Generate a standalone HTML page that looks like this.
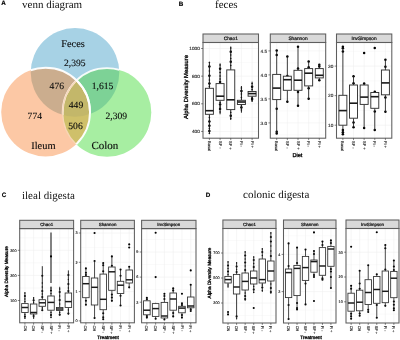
<!DOCTYPE html>
<html lang="en">
<head>
<meta charset="utf-8">
<title>Figure: venn diagram and alpha diversity</title>
<style>
html, body { margin: 0; padding: 0; background: #ffffff; }
body { width: 400px; height: 340px; overflow: hidden; font-family: "Liberation Sans", sans-serif; }
svg { display: block; text-rendering: geometricPrecision; }
</style>
</head>
<body>
<svg width="400" height="340" viewBox="0 0 400 340">
<rect width="400" height="340" fill="#ffffff"/>
<defs><filter id="gray" x="0" y="0" width="100%" height="100%" filterUnits="userSpaceOnUse" color-interpolation-filters="sRGB"><feColorMatrix type="saturate" values="0"/><feGaussianBlur stdDeviation="0.32"/></filter></defs>
<g id="venn">
<defs>
<filter id="soft" x="0" y="0" width="100%" height="100%" filterUnits="userSpaceOnUse" color-interpolation-filters="sRGB"><feGaussianBlur stdDeviation="0.3"/></filter>
<clipPath id="clipF"><circle cx="75.0" cy="72.4" r="44.3"/></clipPath>
<clipPath id="clipI"><circle cx="45.6" cy="112.1" r="44.4"/></clipPath>
<clipPath id="clipC"><circle cx="107.0" cy="112.5" r="44.3"/></clipPath>
</defs>
<g filter="url(#soft)">
<circle cx="75.0" cy="72.4" r="44.3" fill="#a7d2e5" />
<circle cx="45.6" cy="112.1" r="44.4" fill="#fcc8a5" />
<circle cx="107.0" cy="112.5" r="44.3" fill="#a7eea2" />
<circle cx="45.6" cy="112.1" r="44.4" fill="#cbad8e" clip-path="url(#clipF)"/>
<circle cx="107.0" cy="112.5" r="44.3" fill="#7dd296" clip-path="url(#clipF)"/>
<circle cx="107.0" cy="112.5" r="44.3" fill="#cfc06a" clip-path="url(#clipI)"/>
<g clip-path="url(#clipF)"><circle cx="107.0" cy="112.5" r="44.3" fill="#c3b76a" clip-path="url(#clipI)"/></g>
<circle cx="107.0" cy="112.5" r="44.3" fill="none" stroke="#ffffff" stroke-opacity="0.9" stroke-width="1.8" clip-path="url(#clipF)"/>
<circle cx="107.0" cy="112.5" r="44.3" fill="none" stroke="#f8d6b6" stroke-opacity="0.95" stroke-width="1.3" clip-path="url(#clipI)"/>
<circle cx="45.6" cy="112.1" r="44.4" fill="none" stroke="#ffffff" stroke-opacity="0.95" stroke-width="1.9" clip-path="url(#clipF)"/>
<circle cx="45.6" cy="112.1" r="44.4" fill="none" stroke="#ffffff" stroke-opacity="0.95" stroke-width="1.9" clip-path="url(#clipC)"/>
</g>
<g filter="url(#gray)">
<text x="73.0" y="47.3" font-family='"Liberation Serif", serif' font-size="10.3" text-anchor="middle" fill="#0a0a0a" stroke="#0a0a0a" stroke-width="0.12">Feces</text>
<text x="74.8" y="65.5" font-family='"Liberation Serif", serif' font-size="9.6" text-anchor="middle" fill="#0a0a0a" stroke="#0a0a0a" stroke-width="0.12">2,395</text>
<text x="56.8" y="88.5" font-family='"Liberation Serif", serif' font-size="9.6" text-anchor="middle" fill="#0a0a0a" stroke="#0a0a0a" stroke-width="0.12">476</text>
<text x="102.5" y="88.5" font-family='"Liberation Serif", serif' font-size="9.6" text-anchor="middle" fill="#0a0a0a" stroke="#0a0a0a" stroke-width="0.12">1,615</text>
<text x="76" y="108.2" font-family='"Liberation Serif", serif' font-size="9.6" text-anchor="middle" fill="#0a0a0a" stroke="#0a0a0a" stroke-width="0.12">449</text>
<text x="34.8" y="119.2" font-family='"Liberation Serif", serif' font-size="9.6" text-anchor="middle" fill="#0a0a0a" stroke="#0a0a0a" stroke-width="0.12">774</text>
<text x="75.5" y="129.3" font-family='"Liberation Serif", serif' font-size="9.6" text-anchor="middle" fill="#0a0a0a" stroke="#0a0a0a" stroke-width="0.12">506</text>
<text x="116.3" y="119.2" font-family='"Liberation Serif", serif' font-size="9.6" text-anchor="middle" fill="#0a0a0a" stroke="#0a0a0a" stroke-width="0.12">2,309</text>
<text x="43.4" y="149.0" font-family='"Liberation Serif", serif' font-size="10.4" text-anchor="middle" fill="#0a0a0a" stroke="#0a0a0a" stroke-width="0.12">Ileum</text>
<text x="104.9" y="149.0" font-family='"Liberation Serif", serif' font-size="11" text-anchor="middle" fill="#0a0a0a" stroke="#0a0a0a" stroke-width="0.12">Colon</text>
</g>
</g>
<g filter="url(#gray)">
<text x="1.3" y="5.4" font-family='"Liberation Sans", sans-serif' font-size="6.3" font-weight="bold" fill="#000" stroke="#000" stroke-width="0.15">A</text>
<text x="178.8" y="5.6" font-family='"Liberation Sans", sans-serif' font-size="6.3" font-weight="bold" fill="#000" stroke="#000" stroke-width="0.15">B</text>
<text x="1.8" y="197.2" font-family='"Liberation Sans", sans-serif' font-size="6.3" font-weight="bold" fill="#000" stroke="#000" stroke-width="0.15">C</text>
<text x="205.8" y="196.6" font-family='"Liberation Sans", sans-serif' font-size="6.3" font-weight="bold" fill="#000" stroke="#000" stroke-width="0.15">D</text>
<text x="22" y="8.3" font-family='"Liberation Serif", serif' font-size="11" fill="#111">venn diagram</text>
<text x="215" y="8.3" font-family='"Liberation Serif", serif' font-size="11" fill="#111">feces</text>
<text x="22" y="199.3" font-family='"Liberation Serif", serif' font-size="11" fill="#111">ileal digesta</text>
<text x="243" y="198.2" font-family='"Liberation Serif", serif' font-size="11" fill="#111">colonic digesta</text>
<g>
<rect x="203.0" y="42.5" width="55.50" height="95.70" fill="#fff"/>
<line x1="203.0" x2="258.5" y1="62.33" y2="62.33" stroke="#eeeeee" stroke-width="0.3"/>
<line x1="203.0" x2="258.5" y1="89.98" y2="89.98" stroke="#eeeeee" stroke-width="0.3"/>
<line x1="203.0" x2="258.5" y1="117.63" y2="117.63" stroke="#eeeeee" stroke-width="0.3"/>
<line x1="203.0" x2="258.5" y1="48.50" y2="48.50" stroke="#eeeeee" stroke-width="0.55"/>
<line x1="203.0" x2="258.5" y1="76.15" y2="76.15" stroke="#eeeeee" stroke-width="0.55"/>
<line x1="203.0" x2="258.5" y1="103.80" y2="103.80" stroke="#eeeeee" stroke-width="0.55"/>
<line x1="203.0" x2="258.5" y1="131.45" y2="131.45" stroke="#eeeeee" stroke-width="0.55"/>
<line x1="209.40" x2="209.40" y1="42.5" y2="138.2" stroke="#eeeeee" stroke-width="0.55"/>
<line x1="220.08" x2="220.08" y1="42.5" y2="138.2" stroke="#eeeeee" stroke-width="0.55"/>
<line x1="230.75" x2="230.75" y1="42.5" y2="138.2" stroke="#eeeeee" stroke-width="0.55"/>
<line x1="241.42" x2="241.42" y1="42.5" y2="138.2" stroke="#eeeeee" stroke-width="0.55"/>
<line x1="252.10" x2="252.10" y1="42.5" y2="138.2" stroke="#eeeeee" stroke-width="0.55"/>
<circle cx="209.40" cy="62.50" r="0.78" fill="#000"/>
<circle cx="209.40" cy="66.50" r="1.25" fill="#000"/>
<circle cx="209.40" cy="71.00" r="0.78" fill="#000"/>
<circle cx="209.40" cy="75.80" r="1.25" fill="#000"/>
<circle cx="209.40" cy="80.00" r="0.78" fill="#000"/>
<circle cx="209.40" cy="83.60" r="1.25" fill="#000"/>
<circle cx="209.40" cy="86.50" r="0.78" fill="#000"/>
<circle cx="209.40" cy="117.50" r="0.78" fill="#000"/>
<circle cx="209.40" cy="121.60" r="1.25" fill="#000"/>
<circle cx="209.40" cy="125.80" r="1.25" fill="#000"/>
<circle cx="209.40" cy="128.50" r="0.78" fill="#000"/>
<circle cx="209.40" cy="131.00" r="1.25" fill="#000"/>
<circle cx="209.40" cy="133.50" r="0.78" fill="#000"/>
<line x1="209.40" x2="209.40" y1="61.80" y2="88.30" stroke="#1a1a1a" stroke-width="1.0"/>
<line x1="209.40" x2="209.40" y1="114.30" y2="134.00" stroke="#1a1a1a" stroke-width="1.0"/>
<rect x="205.40" y="88.30" width="8.00" height="26.00" fill="#fff" stroke="#303030" stroke-width="0.94"/>
<line x1="205.40" x2="213.41" y1="110.70" y2="110.70" stroke="#1a1a1a" stroke-width="1.61"/>
<circle cx="220.08" cy="65.00" r="0.78" fill="#000"/>
<circle cx="220.08" cy="68.80" r="1.25" fill="#000"/>
<circle cx="220.08" cy="72.50" r="0.78" fill="#000"/>
<circle cx="220.08" cy="76.00" r="0.78" fill="#000"/>
<circle cx="220.08" cy="79.00" r="0.78" fill="#000"/>
<circle cx="220.08" cy="82.00" r="1.25" fill="#000"/>
<circle cx="220.08" cy="102.50" r="0.78" fill="#000"/>
<circle cx="220.08" cy="104.50" r="1.25" fill="#000"/>
<circle cx="220.08" cy="107.00" r="0.78" fill="#000"/>
<circle cx="220.08" cy="109.00" r="1.25" fill="#000"/>
<circle cx="220.08" cy="112.00" r="0.78" fill="#000"/>
<line x1="220.08" x2="220.08" y1="63.40" y2="83.60" stroke="#1a1a1a" stroke-width="1.0"/>
<line x1="220.08" x2="220.08" y1="100.30" y2="114.30" stroke="#1a1a1a" stroke-width="1.0"/>
<rect x="216.07" y="83.60" width="8.00" height="16.70" fill="#fff" stroke="#303030" stroke-width="0.94"/>
<line x1="216.07" x2="224.08" y1="96.20" y2="96.20" stroke="#1a1a1a" stroke-width="1.61"/>
<circle cx="230.75" cy="48.00" r="0.78" fill="#000"/>
<circle cx="230.75" cy="51.70" r="1.25" fill="#000"/>
<circle cx="230.75" cy="55.00" r="0.78" fill="#000"/>
<circle cx="230.75" cy="58.50" r="0.78" fill="#000"/>
<circle cx="230.75" cy="61.80" r="1.25" fill="#000"/>
<circle cx="230.75" cy="65.50" r="0.78" fill="#000"/>
<circle cx="230.75" cy="112.50" r="0.78" fill="#000"/>
<circle cx="230.75" cy="115.80" r="1.25" fill="#000"/>
<circle cx="230.75" cy="118.50" r="0.78" fill="#000"/>
<line x1="230.75" x2="230.75" y1="46.50" y2="69.90" stroke="#1a1a1a" stroke-width="1.0"/>
<line x1="230.75" x2="230.75" y1="109.60" y2="120.00" stroke="#1a1a1a" stroke-width="1.0"/>
<rect x="226.75" y="69.90" width="8.00" height="39.70" fill="#fff" stroke="#303030" stroke-width="0.94"/>
<line x1="226.75" x2="234.75" y1="99.80" y2="99.80" stroke="#1a1a1a" stroke-width="1.61"/>
<circle cx="241.42" cy="88.00" r="0.78" fill="#000"/>
<circle cx="241.42" cy="91.00" r="1.25" fill="#000"/>
<circle cx="241.42" cy="94.00" r="0.78" fill="#000"/>
<circle cx="241.42" cy="97.50" r="0.78" fill="#000"/>
<circle cx="241.42" cy="106.00" r="0.78" fill="#000"/>
<circle cx="241.42" cy="107.60" r="1.25" fill="#000"/>
<circle cx="241.42" cy="110.00" r="0.78" fill="#000"/>
<line x1="241.42" x2="241.42" y1="86.00" y2="100.30" stroke="#1a1a1a" stroke-width="1.0"/>
<line x1="241.42" x2="241.42" y1="104.50" y2="112.70" stroke="#1a1a1a" stroke-width="1.0"/>
<rect x="237.42" y="100.30" width="8.00" height="4.20" fill="#fff" stroke="#303030" stroke-width="0.94"/>
<line x1="237.42" x2="245.43" y1="102.00" y2="102.00" stroke="#1a1a1a" stroke-width="1.61"/>
<circle cx="252.10" cy="83.50" r="0.78" fill="#000"/>
<circle cx="252.10" cy="86.80" r="1.25" fill="#000"/>
<circle cx="252.10" cy="89.50" r="0.78" fill="#000"/>
<circle cx="252.10" cy="97.50" r="0.78" fill="#000"/>
<circle cx="252.10" cy="99.00" r="1.25" fill="#000"/>
<circle cx="252.10" cy="100.80" r="0.78" fill="#000"/>
<line x1="252.10" x2="252.10" y1="81.70" y2="91.50" stroke="#1a1a1a" stroke-width="1.0"/>
<line x1="252.10" x2="252.10" y1="96.20" y2="102.00" stroke="#1a1a1a" stroke-width="1.0"/>
<rect x="248.09" y="91.50" width="8.00" height="4.70" fill="#fff" stroke="#303030" stroke-width="0.94"/>
<line x1="248.09" x2="256.10" y1="93.60" y2="93.60" stroke="#1a1a1a" stroke-width="1.61"/>
<rect x="203.0" y="34.0" width="55.50" height="8.50" fill="#d9d9d9" stroke="#5e5e5e" stroke-width="1.05"/>
<text x="230.75" y="39.98" font-family='"Liberation Sans", sans-serif' font-size="4.8" text-anchor="middle" fill="#111" stroke="#111" stroke-width="0.22">Chao1</text>
<rect x="203.0" y="42.5" width="55.50" height="95.70" fill="none" stroke="#5e5e5e" stroke-width="1.05"/>
<line x1="201.10" x2="203.0" y1="48.50" y2="48.50" stroke="#333333" stroke-width="0.6"/>
<text x="199.80" y="50.19" font-family='"Liberation Sans", sans-serif' font-size="4.7" text-anchor="end" fill="#2e2e2e" stroke="#2e2e2e" stroke-width="0.15">1000</text>
<line x1="201.10" x2="203.0" y1="76.15" y2="76.15" stroke="#333333" stroke-width="0.6"/>
<text x="199.80" y="77.84" font-family='"Liberation Sans", sans-serif' font-size="4.7" text-anchor="end" fill="#2e2e2e" stroke="#2e2e2e" stroke-width="0.15">800</text>
<line x1="201.10" x2="203.0" y1="103.80" y2="103.80" stroke="#333333" stroke-width="0.6"/>
<text x="199.80" y="105.49" font-family='"Liberation Sans", sans-serif' font-size="4.7" text-anchor="end" fill="#2e2e2e" stroke="#2e2e2e" stroke-width="0.15">600</text>
<line x1="201.10" x2="203.0" y1="131.45" y2="131.45" stroke="#333333" stroke-width="0.6"/>
<text x="199.80" y="133.14" font-family='"Liberation Sans", sans-serif' font-size="4.7" text-anchor="end" fill="#2e2e2e" stroke="#2e2e2e" stroke-width="0.15">400</text>
<line x1="209.40" x2="209.40" y1="138.2" y2="140.10" stroke="#333333" stroke-width="0.6"/>
<text transform="translate(207.96,141.00) rotate(90)" font-family='"Liberation Sans", sans-serif' font-size="4.0" text-anchor="start" fill="#2e2e2e" stroke="#2e2e2e" stroke-width="0.15">Basal</text>
<line x1="220.08" x2="220.08" y1="138.2" y2="140.10" stroke="#333333" stroke-width="0.6"/>
<text transform="translate(218.64,141.00) rotate(90)" font-family='"Liberation Sans", sans-serif' font-size="4.0" text-anchor="start" fill="#2e2e2e" stroke="#2e2e2e" stroke-width="0.15">SF -</text>
<line x1="230.75" x2="230.75" y1="138.2" y2="140.10" stroke="#333333" stroke-width="0.6"/>
<text transform="translate(229.31,141.00) rotate(90)" font-family='"Liberation Sans", sans-serif' font-size="4.0" text-anchor="start" fill="#2e2e2e" stroke="#2e2e2e" stroke-width="0.15">SF +</text>
<line x1="241.42" x2="241.42" y1="138.2" y2="140.10" stroke="#333333" stroke-width="0.6"/>
<text transform="translate(239.98,141.00) rotate(90)" font-family='"Liberation Sans", sans-serif' font-size="4.0" text-anchor="start" fill="#2e2e2e" stroke="#2e2e2e" stroke-width="0.15">Fi -</text>
<line x1="252.10" x2="252.10" y1="138.2" y2="140.10" stroke="#333333" stroke-width="0.6"/>
<text transform="translate(250.66,141.00) rotate(90)" font-family='"Liberation Sans", sans-serif' font-size="4.0" text-anchor="start" fill="#2e2e2e" stroke="#2e2e2e" stroke-width="0.15">Fi +</text>
</g>
<g>
<rect x="270.3" y="42.5" width="55.40" height="95.70" fill="#fff"/>
<line x1="270.3" x2="325.7" y1="62.90" y2="62.90" stroke="#eeeeee" stroke-width="0.3"/>
<line x1="270.3" x2="325.7" y1="86.90" y2="86.90" stroke="#eeeeee" stroke-width="0.3"/>
<line x1="270.3" x2="325.7" y1="110.90" y2="110.90" stroke="#eeeeee" stroke-width="0.3"/>
<line x1="270.3" x2="325.7" y1="134.90" y2="134.90" stroke="#eeeeee" stroke-width="0.3"/>
<line x1="270.3" x2="325.7" y1="50.90" y2="50.90" stroke="#eeeeee" stroke-width="0.55"/>
<line x1="270.3" x2="325.7" y1="74.90" y2="74.90" stroke="#eeeeee" stroke-width="0.55"/>
<line x1="270.3" x2="325.7" y1="98.90" y2="98.90" stroke="#eeeeee" stroke-width="0.55"/>
<line x1="270.3" x2="325.7" y1="122.90" y2="122.90" stroke="#eeeeee" stroke-width="0.55"/>
<line x1="276.69" x2="276.69" y1="42.5" y2="138.2" stroke="#eeeeee" stroke-width="0.55"/>
<line x1="287.35" x2="287.35" y1="42.5" y2="138.2" stroke="#eeeeee" stroke-width="0.55"/>
<line x1="298.00" x2="298.00" y1="42.5" y2="138.2" stroke="#eeeeee" stroke-width="0.55"/>
<line x1="308.65" x2="308.65" y1="42.5" y2="138.2" stroke="#eeeeee" stroke-width="0.55"/>
<line x1="319.31" x2="319.31" y1="42.5" y2="138.2" stroke="#eeeeee" stroke-width="0.55"/>
<circle cx="276.69" cy="50.60" r="1.25" fill="#000"/>
<circle cx="276.69" cy="55.00" r="1.25" fill="#000"/>
<circle cx="276.69" cy="108.80" r="1.25" fill="#000"/>
<circle cx="276.69" cy="131.70" r="1.25" fill="#000"/>
<circle cx="276.69" cy="133.50" r="1.25" fill="#000"/>
<line x1="276.69" x2="276.69" y1="50.60" y2="74.40" stroke="#1a1a1a" stroke-width="0.85"/>
<line x1="276.69" x2="276.69" y1="99.60" y2="133.50" stroke="#1a1a1a" stroke-width="0.85"/>
<rect x="272.70" y="74.40" width="7.99" height="25.20" fill="#fff" stroke="#303030" stroke-width="0.94"/>
<line x1="272.70" x2="280.69" y1="88.10" y2="88.10" stroke="#1a1a1a" stroke-width="1.61"/>
<circle cx="287.35" cy="56.40" r="1.25" fill="#000"/>
<circle cx="287.35" cy="76.00" r="1.25" fill="#000"/>
<circle cx="287.35" cy="101.80" r="1.25" fill="#000"/>
<line x1="287.35" x2="287.35" y1="56.40" y2="76.20" stroke="#1a1a1a" stroke-width="0.85"/>
<line x1="287.35" x2="287.35" y1="90.30" y2="101.80" stroke="#1a1a1a" stroke-width="0.85"/>
<rect x="283.35" y="76.20" width="7.99" height="14.10" fill="#fff" stroke="#303030" stroke-width="0.94"/>
<line x1="283.35" x2="291.34" y1="79.70" y2="79.70" stroke="#1a1a1a" stroke-width="1.61"/>
<circle cx="298.00" cy="46.70" r="1.25" fill="#000"/>
<circle cx="298.00" cy="68.60" r="1.25" fill="#000"/>
<circle cx="298.00" cy="92.00" r="1.25" fill="#000"/>
<circle cx="298.00" cy="105.80" r="1.25" fill="#000"/>
<line x1="298.00" x2="298.00" y1="46.70" y2="70.30" stroke="#1a1a1a" stroke-width="0.85"/>
<line x1="298.00" x2="298.00" y1="90.30" y2="105.80" stroke="#1a1a1a" stroke-width="0.85"/>
<rect x="294.00" y="70.30" width="7.99" height="20.00" fill="#fff" stroke="#303030" stroke-width="0.94"/>
<line x1="294.00" x2="302.00" y1="80.20" y2="80.20" stroke="#1a1a1a" stroke-width="1.61"/>
<circle cx="308.65" cy="61.50" r="1.25" fill="#000"/>
<circle cx="308.65" cy="67.30" r="1.25" fill="#000"/>
<circle cx="308.65" cy="88.20" r="1.25" fill="#000"/>
<circle cx="308.65" cy="98.80" r="1.25" fill="#000"/>
<line x1="308.65" x2="308.65" y1="61.50" y2="68.60" stroke="#1a1a1a" stroke-width="0.85"/>
<line x1="308.65" x2="308.65" y1="85.90" y2="98.80" stroke="#1a1a1a" stroke-width="0.85"/>
<rect x="304.66" y="68.60" width="7.99" height="17.30" fill="#fff" stroke="#303030" stroke-width="0.94"/>
<line x1="304.66" x2="312.65" y1="73.20" y2="73.20" stroke="#1a1a1a" stroke-width="1.61"/>
<circle cx="319.31" cy="64.70" r="1.25" fill="#000"/>
<circle cx="319.31" cy="66.50" r="1.25" fill="#000"/>
<circle cx="319.31" cy="80.20" r="1.25" fill="#000"/>
<line x1="319.31" x2="319.31" y1="64.70" y2="68.60" stroke="#1a1a1a" stroke-width="0.85"/>
<line x1="319.31" x2="319.31" y1="77.90" y2="80.20" stroke="#1a1a1a" stroke-width="0.85"/>
<rect x="315.31" y="68.60" width="7.99" height="9.30" fill="#fff" stroke="#303030" stroke-width="0.94"/>
<line x1="315.31" x2="323.30" y1="75.30" y2="75.30" stroke="#1a1a1a" stroke-width="1.61"/>
<rect x="270.3" y="34.0" width="55.40" height="8.50" fill="#d9d9d9" stroke="#5e5e5e" stroke-width="1.05"/>
<text x="298.00" y="39.98" font-family='"Liberation Sans", sans-serif' font-size="4.8" text-anchor="middle" fill="#111" stroke="#111" stroke-width="0.22">Shannon</text>
<rect x="270.3" y="42.5" width="55.40" height="95.70" fill="none" stroke="#5e5e5e" stroke-width="1.05"/>
<line x1="268.40" x2="270.3" y1="50.90" y2="50.90" stroke="#333333" stroke-width="0.6"/>
<text x="267.10" y="52.59" font-family='"Liberation Sans", sans-serif' font-size="4.7" text-anchor="end" fill="#2e2e2e" stroke="#2e2e2e" stroke-width="0.15">4.5</text>
<line x1="268.40" x2="270.3" y1="74.90" y2="74.90" stroke="#333333" stroke-width="0.6"/>
<text x="267.10" y="76.59" font-family='"Liberation Sans", sans-serif' font-size="4.7" text-anchor="end" fill="#2e2e2e" stroke="#2e2e2e" stroke-width="0.15">4.0</text>
<line x1="268.40" x2="270.3" y1="98.90" y2="98.90" stroke="#333333" stroke-width="0.6"/>
<text x="267.10" y="100.59" font-family='"Liberation Sans", sans-serif' font-size="4.7" text-anchor="end" fill="#2e2e2e" stroke="#2e2e2e" stroke-width="0.15">3.5</text>
<line x1="268.40" x2="270.3" y1="122.90" y2="122.90" stroke="#333333" stroke-width="0.6"/>
<text x="267.10" y="124.59" font-family='"Liberation Sans", sans-serif' font-size="4.7" text-anchor="end" fill="#2e2e2e" stroke="#2e2e2e" stroke-width="0.15">3.0</text>
<line x1="276.69" x2="276.69" y1="138.2" y2="140.10" stroke="#333333" stroke-width="0.6"/>
<text transform="translate(275.25,141.00) rotate(90)" font-family='"Liberation Sans", sans-serif' font-size="4.0" text-anchor="start" fill="#2e2e2e" stroke="#2e2e2e" stroke-width="0.15">Basal</text>
<line x1="287.35" x2="287.35" y1="138.2" y2="140.10" stroke="#333333" stroke-width="0.6"/>
<text transform="translate(285.91,141.00) rotate(90)" font-family='"Liberation Sans", sans-serif' font-size="4.0" text-anchor="start" fill="#2e2e2e" stroke="#2e2e2e" stroke-width="0.15">SF -</text>
<line x1="298.00" x2="298.00" y1="138.2" y2="140.10" stroke="#333333" stroke-width="0.6"/>
<text transform="translate(296.56,141.00) rotate(90)" font-family='"Liberation Sans", sans-serif' font-size="4.0" text-anchor="start" fill="#2e2e2e" stroke="#2e2e2e" stroke-width="0.15">SF +</text>
<line x1="308.65" x2="308.65" y1="138.2" y2="140.10" stroke="#333333" stroke-width="0.6"/>
<text transform="translate(307.21,141.00) rotate(90)" font-family='"Liberation Sans", sans-serif' font-size="4.0" text-anchor="start" fill="#2e2e2e" stroke="#2e2e2e" stroke-width="0.15">Fi -</text>
<line x1="319.31" x2="319.31" y1="138.2" y2="140.10" stroke="#333333" stroke-width="0.6"/>
<text transform="translate(317.87,141.00) rotate(90)" font-family='"Liberation Sans", sans-serif' font-size="4.0" text-anchor="start" fill="#2e2e2e" stroke="#2e2e2e" stroke-width="0.15">Fi +</text>
</g>
<g>
<rect x="336.5" y="42.5" width="55.30" height="95.70" fill="#fff"/>
<line x1="336.5" x2="391.8" y1="51.32" y2="51.32" stroke="#eeeeee" stroke-width="0.3"/>
<line x1="336.5" x2="391.8" y1="80.88" y2="80.88" stroke="#eeeeee" stroke-width="0.3"/>
<line x1="336.5" x2="391.8" y1="110.43" y2="110.43" stroke="#eeeeee" stroke-width="0.3"/>
<line x1="336.5" x2="391.8" y1="66.10" y2="66.10" stroke="#eeeeee" stroke-width="0.55"/>
<line x1="336.5" x2="391.8" y1="95.65" y2="95.65" stroke="#eeeeee" stroke-width="0.55"/>
<line x1="336.5" x2="391.8" y1="125.20" y2="125.20" stroke="#eeeeee" stroke-width="0.55"/>
<line x1="342.88" x2="342.88" y1="42.5" y2="138.2" stroke="#eeeeee" stroke-width="0.55"/>
<line x1="353.52" x2="353.52" y1="42.5" y2="138.2" stroke="#eeeeee" stroke-width="0.55"/>
<line x1="364.15" x2="364.15" y1="42.5" y2="138.2" stroke="#eeeeee" stroke-width="0.55"/>
<line x1="374.78" x2="374.78" y1="42.5" y2="138.2" stroke="#eeeeee" stroke-width="0.55"/>
<line x1="385.42" x2="385.42" y1="42.5" y2="138.2" stroke="#eeeeee" stroke-width="0.55"/>
<circle cx="342.88" cy="46.70" r="1.25" fill="#000"/>
<circle cx="342.88" cy="48.20" r="1.25" fill="#000"/>
<circle cx="342.88" cy="51.50" r="1.25" fill="#000"/>
<circle cx="342.88" cy="130.00" r="1.25" fill="#000"/>
<circle cx="342.88" cy="132.30" r="1.25" fill="#000"/>
<circle cx="342.88" cy="134.20" r="1.25" fill="#000"/>
<line x1="342.88" x2="342.88" y1="46.70" y2="95.30" stroke="#1a1a1a" stroke-width="0.85"/>
<line x1="342.88" x2="342.88" y1="125.20" y2="134.40" stroke="#1a1a1a" stroke-width="0.85"/>
<rect x="338.89" y="95.30" width="7.98" height="29.90" fill="#fff" stroke="#303030" stroke-width="0.94"/>
<line x1="338.89" x2="346.87" y1="110.60" y2="110.60" stroke="#1a1a1a" stroke-width="1.61"/>
<circle cx="353.52" cy="76.20" r="1.25" fill="#000"/>
<circle cx="353.52" cy="83.20" r="1.25" fill="#000"/>
<circle cx="353.52" cy="122.60" r="1.25" fill="#000"/>
<circle cx="353.52" cy="127.30" r="1.25" fill="#000"/>
<line x1="353.52" x2="353.52" y1="76.20" y2="85.00" stroke="#1a1a1a" stroke-width="0.85"/>
<line x1="353.52" x2="353.52" y1="118.20" y2="127.30" stroke="#1a1a1a" stroke-width="0.85"/>
<rect x="349.53" y="85.00" width="7.98" height="33.20" fill="#fff" stroke="#303030" stroke-width="0.94"/>
<line x1="349.53" x2="357.50" y1="103.20" y2="103.20" stroke="#1a1a1a" stroke-width="1.61"/>
<circle cx="364.15" cy="52.90" r="1.25" fill="#000"/>
<circle cx="364.15" cy="83.60" r="1.25" fill="#000"/>
<circle cx="364.15" cy="127.90" r="1.25" fill="#000"/>
<line x1="364.15" x2="364.15" y1="83.60" y2="85.00" stroke="#1a1a1a" stroke-width="0.85"/>
<line x1="364.15" x2="364.15" y1="104.40" y2="127.90" stroke="#1a1a1a" stroke-width="0.85"/>
<rect x="360.16" y="85.00" width="7.98" height="19.40" fill="#fff" stroke="#303030" stroke-width="0.94"/>
<line x1="360.16" x2="368.14" y1="97.10" y2="97.10" stroke="#1a1a1a" stroke-width="1.61"/>
<circle cx="374.78" cy="48.00" r="1.25" fill="#000"/>
<circle cx="374.78" cy="91.70" r="1.25" fill="#000"/>
<circle cx="374.78" cy="111.50" r="1.25" fill="#000"/>
<circle cx="374.78" cy="130.00" r="1.25" fill="#000"/>
<line x1="374.78" x2="374.78" y1="91.70" y2="92.50" stroke="#1a1a1a" stroke-width="0.85"/>
<line x1="374.78" x2="374.78" y1="108.30" y2="130.00" stroke="#1a1a1a" stroke-width="0.85"/>
<rect x="370.80" y="92.50" width="7.98" height="15.80" fill="#fff" stroke="#303030" stroke-width="0.94"/>
<line x1="370.80" x2="378.77" y1="96.70" y2="96.70" stroke="#1a1a1a" stroke-width="1.61"/>
<circle cx="385.42" cy="59.80" r="1.25" fill="#000"/>
<circle cx="385.42" cy="66.80" r="1.25" fill="#000"/>
<circle cx="385.42" cy="97.60" r="1.25" fill="#000"/>
<circle cx="385.42" cy="111.80" r="1.25" fill="#000"/>
<line x1="385.42" x2="385.42" y1="59.80" y2="70.00" stroke="#1a1a1a" stroke-width="0.85"/>
<line x1="385.42" x2="385.42" y1="94.80" y2="111.80" stroke="#1a1a1a" stroke-width="0.85"/>
<rect x="381.43" y="70.00" width="7.98" height="24.80" fill="#fff" stroke="#303030" stroke-width="0.94"/>
<line x1="381.43" x2="389.41" y1="82.90" y2="82.90" stroke="#1a1a1a" stroke-width="1.61"/>
<rect x="336.5" y="34.0" width="55.30" height="8.50" fill="#d9d9d9" stroke="#5e5e5e" stroke-width="1.05"/>
<text x="364.15" y="39.98" font-family='"Liberation Sans", sans-serif' font-size="4.8" text-anchor="middle" fill="#111" stroke="#111" stroke-width="0.22">InvSimpson</text>
<rect x="336.5" y="42.5" width="55.30" height="95.70" fill="none" stroke="#5e5e5e" stroke-width="1.05"/>
<line x1="334.60" x2="336.5" y1="66.10" y2="66.10" stroke="#333333" stroke-width="0.6"/>
<text x="333.30" y="67.79" font-family='"Liberation Sans", sans-serif' font-size="4.7" text-anchor="end" fill="#2e2e2e" stroke="#2e2e2e" stroke-width="0.15">30</text>
<line x1="334.60" x2="336.5" y1="95.65" y2="95.65" stroke="#333333" stroke-width="0.6"/>
<text x="333.30" y="97.34" font-family='"Liberation Sans", sans-serif' font-size="4.7" text-anchor="end" fill="#2e2e2e" stroke="#2e2e2e" stroke-width="0.15">20</text>
<line x1="334.60" x2="336.5" y1="125.20" y2="125.20" stroke="#333333" stroke-width="0.6"/>
<text x="333.30" y="126.89" font-family='"Liberation Sans", sans-serif' font-size="4.7" text-anchor="end" fill="#2e2e2e" stroke="#2e2e2e" stroke-width="0.15">10</text>
<line x1="342.88" x2="342.88" y1="138.2" y2="140.10" stroke="#333333" stroke-width="0.6"/>
<text transform="translate(341.44,141.00) rotate(90)" font-family='"Liberation Sans", sans-serif' font-size="4.0" text-anchor="start" fill="#2e2e2e" stroke="#2e2e2e" stroke-width="0.15">Basal</text>
<line x1="353.52" x2="353.52" y1="138.2" y2="140.10" stroke="#333333" stroke-width="0.6"/>
<text transform="translate(352.08,141.00) rotate(90)" font-family='"Liberation Sans", sans-serif' font-size="4.0" text-anchor="start" fill="#2e2e2e" stroke="#2e2e2e" stroke-width="0.15">SF -</text>
<line x1="364.15" x2="364.15" y1="138.2" y2="140.10" stroke="#333333" stroke-width="0.6"/>
<text transform="translate(362.71,141.00) rotate(90)" font-family='"Liberation Sans", sans-serif' font-size="4.0" text-anchor="start" fill="#2e2e2e" stroke="#2e2e2e" stroke-width="0.15">SF +</text>
<line x1="374.78" x2="374.78" y1="138.2" y2="140.10" stroke="#333333" stroke-width="0.6"/>
<text transform="translate(373.34,141.00) rotate(90)" font-family='"Liberation Sans", sans-serif' font-size="4.0" text-anchor="start" fill="#2e2e2e" stroke="#2e2e2e" stroke-width="0.15">Fi -</text>
<line x1="385.42" x2="385.42" y1="138.2" y2="140.10" stroke="#333333" stroke-width="0.6"/>
<text transform="translate(383.98,141.00) rotate(90)" font-family='"Liberation Sans", sans-serif' font-size="4.0" text-anchor="start" fill="#2e2e2e" stroke="#2e2e2e" stroke-width="0.15">Fi +</text>
</g>
<text transform="translate(187.9,87.0) rotate(-90)" font-family='"Liberation Sans", sans-serif' font-size="5.9" text-anchor="middle" fill="#000" stroke="#000" stroke-width="0.3">Alpha Diversity Measure</text>
<text x="297.4" y="157.0" font-family='"Liberation Sans", sans-serif' font-size="5.6" text-anchor="middle" fill="#000" stroke="#000" stroke-width="0.3">Diet</text>
<g>
<rect x="19.7" y="228.6" width="53.90" height="94.20" fill="#fff"/>
<line x1="19.7" x2="73.6" y1="237.75" y2="237.75" stroke="#eeeeee" stroke-width="0.3"/>
<line x1="19.7" x2="73.6" y1="262.85" y2="262.85" stroke="#eeeeee" stroke-width="0.3"/>
<line x1="19.7" x2="73.6" y1="287.95" y2="287.95" stroke="#eeeeee" stroke-width="0.3"/>
<line x1="19.7" x2="73.6" y1="313.05" y2="313.05" stroke="#eeeeee" stroke-width="0.3"/>
<line x1="19.7" x2="73.6" y1="250.30" y2="250.30" stroke="#eeeeee" stroke-width="0.55"/>
<line x1="19.7" x2="73.6" y1="275.40" y2="275.40" stroke="#eeeeee" stroke-width="0.55"/>
<line x1="19.7" x2="73.6" y1="300.50" y2="300.50" stroke="#eeeeee" stroke-width="0.55"/>
<line x1="24.92" x2="24.92" y1="228.6" y2="322.8" stroke="#eeeeee" stroke-width="0.55"/>
<line x1="33.61" x2="33.61" y1="228.6" y2="322.8" stroke="#eeeeee" stroke-width="0.55"/>
<line x1="42.30" x2="42.30" y1="228.6" y2="322.8" stroke="#eeeeee" stroke-width="0.55"/>
<line x1="51.00" x2="51.00" y1="228.6" y2="322.8" stroke="#eeeeee" stroke-width="0.55"/>
<line x1="59.69" x2="59.69" y1="228.6" y2="322.8" stroke="#eeeeee" stroke-width="0.55"/>
<line x1="68.38" x2="68.38" y1="228.6" y2="322.8" stroke="#eeeeee" stroke-width="0.55"/>
<line x1="51.00" x2="51.00" y1="232.50" y2="283.00" stroke="#2a2a2a" stroke-width="1.15"/>
<circle cx="24.92" cy="293.00" r="0.65" fill="#000"/>
<circle cx="24.92" cy="296.00" r="1.05" fill="#000"/>
<circle cx="24.92" cy="299.00" r="0.65" fill="#000"/>
<circle cx="24.92" cy="301.50" r="0.65" fill="#000"/>
<circle cx="24.92" cy="314.50" r="0.65" fill="#000"/>
<circle cx="24.92" cy="316.50" r="1.05" fill="#000"/>
<circle cx="24.92" cy="318.20" r="0.65" fill="#000"/>
<line x1="24.92" x2="24.92" y1="292.20" y2="303.60" stroke="#1a1a1a" stroke-width="0.9"/>
<line x1="24.92" x2="24.92" y1="312.50" y2="318.70" stroke="#1a1a1a" stroke-width="0.9"/>
<rect x="21.66" y="303.60" width="6.52" height="8.90" fill="#fff" stroke="#303030" stroke-width="0.86"/>
<line x1="21.66" x2="28.18" y1="307.50" y2="307.50" stroke="#1a1a1a" stroke-width="1.48"/>
<circle cx="33.61" cy="298.00" r="0.65" fill="#000"/>
<circle cx="33.61" cy="300.30" r="1.05" fill="#000"/>
<circle cx="33.61" cy="302.30" r="0.65" fill="#000"/>
<circle cx="33.61" cy="316.00" r="1.05" fill="#000"/>
<circle cx="33.61" cy="318.00" r="0.65" fill="#000"/>
<line x1="33.61" x2="33.61" y1="297.00" y2="304.00" stroke="#1a1a1a" stroke-width="0.9"/>
<line x1="33.61" x2="33.61" y1="314.00" y2="318.40" stroke="#1a1a1a" stroke-width="0.9"/>
<rect x="30.35" y="304.00" width="6.52" height="10.00" fill="#fff" stroke="#303030" stroke-width="0.86"/>
<line x1="30.35" x2="36.87" y1="312.50" y2="312.50" stroke="#1a1a1a" stroke-width="1.48"/>
<circle cx="42.30" cy="275.80" r="1.05" fill="#000"/>
<circle cx="42.30" cy="283.00" r="0.65" fill="#000"/>
<circle cx="42.30" cy="287.00" r="0.65" fill="#000"/>
<circle cx="42.30" cy="291.00" r="1.05" fill="#000"/>
<circle cx="42.30" cy="294.00" r="0.65" fill="#000"/>
<circle cx="42.30" cy="297.00" r="1.05" fill="#000"/>
<circle cx="42.30" cy="308.00" r="0.65" fill="#000"/>
<circle cx="42.30" cy="310.30" r="1.05" fill="#000"/>
<line x1="42.30" x2="42.30" y1="266.20" y2="299.70" stroke="#1a1a1a" stroke-width="0.9"/>
<line x1="42.30" x2="42.30" y1="306.30" y2="311.00" stroke="#1a1a1a" stroke-width="0.9"/>
<rect x="39.04" y="299.70" width="6.52" height="6.60" fill="#fff" stroke="#303030" stroke-width="0.86"/>
<line x1="39.04" x2="45.56" y1="302.80" y2="302.80" stroke="#1a1a1a" stroke-width="1.48"/>
<circle cx="51.00" cy="256.40" r="1.05" fill="#000"/>
<circle cx="51.00" cy="288.00" r="0.65" fill="#000"/>
<circle cx="51.00" cy="290.50" r="1.05" fill="#000"/>
<circle cx="51.00" cy="293.50" r="0.65" fill="#000"/>
<circle cx="51.00" cy="312.50" r="0.65" fill="#000"/>
<circle cx="51.00" cy="315.00" r="1.05" fill="#000"/>
<circle cx="51.00" cy="317.50" r="0.65" fill="#000"/>
<line x1="51.00" x2="51.00" y1="286.50" y2="296.00" stroke="#1a1a1a" stroke-width="0.9"/>
<line x1="51.00" x2="51.00" y1="310.20" y2="318.00" stroke="#1a1a1a" stroke-width="0.9"/>
<rect x="47.74" y="296.00" width="6.52" height="14.20" fill="#fff" stroke="#303030" stroke-width="0.86"/>
<line x1="47.74" x2="54.26" y1="302.40" y2="302.40" stroke="#1a1a1a" stroke-width="1.48"/>
<circle cx="59.69" cy="289.00" r="0.65" fill="#000"/>
<circle cx="59.69" cy="292.00" r="1.05" fill="#000"/>
<circle cx="59.69" cy="296.00" r="0.65" fill="#000"/>
<circle cx="59.69" cy="300.00" r="1.05" fill="#000"/>
<circle cx="59.69" cy="304.00" r="0.65" fill="#000"/>
<circle cx="59.69" cy="312.50" r="0.65" fill="#000"/>
<circle cx="59.69" cy="314.80" r="1.05" fill="#000"/>
<line x1="59.69" x2="59.69" y1="286.80" y2="307.50" stroke="#1a1a1a" stroke-width="0.9"/>
<line x1="59.69" x2="59.69" y1="310.50" y2="315.60" stroke="#1a1a1a" stroke-width="0.9"/>
<rect x="56.43" y="307.50" width="6.52" height="3.00" fill="#fff" stroke="#303030" stroke-width="0.86"/>
<line x1="56.43" x2="62.95" y1="309.00" y2="309.00" stroke="#1a1a1a" stroke-width="1.48"/>
<circle cx="68.38" cy="275.00" r="1.05" fill="#000"/>
<circle cx="68.38" cy="279.50" r="0.65" fill="#000"/>
<circle cx="68.38" cy="284.00" r="1.05" fill="#000"/>
<circle cx="68.38" cy="288.00" r="0.65" fill="#000"/>
<circle cx="68.38" cy="291.00" r="1.05" fill="#000"/>
<circle cx="68.38" cy="310.00" r="0.65" fill="#000"/>
<circle cx="68.38" cy="313.50" r="1.05" fill="#000"/>
<line x1="68.38" x2="68.38" y1="270.40" y2="293.00" stroke="#1a1a1a" stroke-width="0.9"/>
<line x1="68.38" x2="68.38" y1="307.50" y2="314.80" stroke="#1a1a1a" stroke-width="0.9"/>
<rect x="65.12" y="293.00" width="6.52" height="14.50" fill="#fff" stroke="#303030" stroke-width="0.86"/>
<line x1="65.12" x2="71.64" y1="301.60" y2="301.60" stroke="#1a1a1a" stroke-width="1.48"/>
<rect x="19.7" y="220.3" width="53.90" height="8.30" fill="#d9d9d9" stroke="#5e5e5e" stroke-width="1.05"/>
<text x="46.65" y="226.03" font-family='"Liberation Sans", sans-serif' font-size="4.4" text-anchor="middle" fill="#111" stroke="#111" stroke-width="0.22">Chao1</text>
<rect x="19.7" y="228.6" width="53.90" height="94.20" fill="none" stroke="#5e5e5e" stroke-width="1.05"/>
<line x1="17.80" x2="19.7" y1="250.30" y2="250.30" stroke="#333333" stroke-width="0.6"/>
<text x="16.50" y="251.67" font-family='"Liberation Sans", sans-serif' font-size="3.8" text-anchor="end" fill="#2e2e2e" stroke="#2e2e2e" stroke-width="0.15">300</text>
<line x1="17.80" x2="19.7" y1="275.40" y2="275.40" stroke="#333333" stroke-width="0.6"/>
<text x="16.50" y="276.77" font-family='"Liberation Sans", sans-serif' font-size="3.8" text-anchor="end" fill="#2e2e2e" stroke="#2e2e2e" stroke-width="0.15">200</text>
<line x1="17.80" x2="19.7" y1="300.50" y2="300.50" stroke="#333333" stroke-width="0.6"/>
<text x="16.50" y="301.87" font-family='"Liberation Sans", sans-serif' font-size="3.8" text-anchor="end" fill="#2e2e2e" stroke="#2e2e2e" stroke-width="0.15">100</text>
<line x1="24.92" x2="24.92" y1="322.8" y2="324.70" stroke="#333333" stroke-width="0.6"/>
<text transform="translate(23.51,325.60) rotate(90)" font-family='"Liberation Sans", sans-serif' font-size="3.9" text-anchor="start" fill="#2e2e2e" stroke="#2e2e2e" stroke-width="0.15">CN</text>
<line x1="33.61" x2="33.61" y1="322.8" y2="324.70" stroke="#333333" stroke-width="0.6"/>
<text transform="translate(32.21,325.60) rotate(90)" font-family='"Liberation Sans", sans-serif' font-size="3.9" text-anchor="start" fill="#2e2e2e" stroke="#2e2e2e" stroke-width="0.15">CH</text>
<line x1="42.30" x2="42.30" y1="322.8" y2="324.70" stroke="#333333" stroke-width="0.6"/>
<text transform="translate(40.90,325.60) rotate(90)" font-family='"Liberation Sans", sans-serif' font-size="3.9" text-anchor="start" fill="#2e2e2e" stroke="#2e2e2e" stroke-width="0.15">SF -</text>
<line x1="51.00" x2="51.00" y1="322.8" y2="324.70" stroke="#333333" stroke-width="0.6"/>
<text transform="translate(49.59,325.60) rotate(90)" font-family='"Liberation Sans", sans-serif' font-size="3.9" text-anchor="start" fill="#2e2e2e" stroke="#2e2e2e" stroke-width="0.15">SF +</text>
<line x1="59.69" x2="59.69" y1="322.8" y2="324.70" stroke="#333333" stroke-width="0.6"/>
<text transform="translate(58.29,325.60) rotate(90)" font-family='"Liberation Sans", sans-serif' font-size="3.9" text-anchor="start" fill="#2e2e2e" stroke="#2e2e2e" stroke-width="0.15">Fi -</text>
<line x1="68.38" x2="68.38" y1="322.8" y2="324.70" stroke="#333333" stroke-width="0.6"/>
<text transform="translate(66.98,325.60) rotate(90)" font-family='"Liberation Sans", sans-serif' font-size="3.9" text-anchor="start" fill="#2e2e2e" stroke="#2e2e2e" stroke-width="0.15">Fi +</text>
</g>
<g>
<rect x="80.7" y="228.6" width="53.70" height="94.20" fill="#fff"/>
<line x1="80.7" x2="134.4" y1="247.65" y2="247.65" stroke="#eeeeee" stroke-width="0.3"/>
<line x1="80.7" x2="134.4" y1="276.95" y2="276.95" stroke="#eeeeee" stroke-width="0.3"/>
<line x1="80.7" x2="134.4" y1="306.25" y2="306.25" stroke="#eeeeee" stroke-width="0.3"/>
<line x1="80.7" x2="134.4" y1="233.00" y2="233.00" stroke="#eeeeee" stroke-width="0.55"/>
<line x1="80.7" x2="134.4" y1="262.30" y2="262.30" stroke="#eeeeee" stroke-width="0.55"/>
<line x1="80.7" x2="134.4" y1="291.60" y2="291.60" stroke="#eeeeee" stroke-width="0.55"/>
<line x1="80.7" x2="134.4" y1="320.90" y2="320.90" stroke="#eeeeee" stroke-width="0.55"/>
<line x1="85.90" x2="85.90" y1="228.6" y2="322.8" stroke="#eeeeee" stroke-width="0.55"/>
<line x1="94.56" x2="94.56" y1="228.6" y2="322.8" stroke="#eeeeee" stroke-width="0.55"/>
<line x1="103.22" x2="103.22" y1="228.6" y2="322.8" stroke="#eeeeee" stroke-width="0.55"/>
<line x1="111.88" x2="111.88" y1="228.6" y2="322.8" stroke="#eeeeee" stroke-width="0.55"/>
<line x1="120.54" x2="120.54" y1="228.6" y2="322.8" stroke="#eeeeee" stroke-width="0.55"/>
<line x1="129.20" x2="129.20" y1="228.6" y2="322.8" stroke="#eeeeee" stroke-width="0.55"/>
<circle cx="85.90" cy="268.40" r="1.05" fill="#000"/>
<circle cx="85.90" cy="272.70" r="1.05" fill="#000"/>
<circle cx="85.90" cy="275.00" r="1.05" fill="#000"/>
<circle cx="85.90" cy="300.80" r="1.05" fill="#000"/>
<circle cx="85.90" cy="304.70" r="1.05" fill="#000"/>
<line x1="85.90" x2="85.90" y1="268.40" y2="276.50" stroke="#1a1a1a" stroke-width="0.78"/>
<line x1="85.90" x2="85.90" y1="297.70" y2="304.70" stroke="#1a1a1a" stroke-width="0.78"/>
<rect x="82.65" y="276.50" width="6.50" height="21.20" fill="#fff" stroke="#303030" stroke-width="0.86"/>
<line x1="82.65" x2="89.14" y1="283.70" y2="283.70" stroke="#1a1a1a" stroke-width="1.48"/>
<circle cx="94.56" cy="233.00" r="1.05" fill="#000"/>
<circle cx="94.56" cy="261.00" r="1.05" fill="#000"/>
<circle cx="94.56" cy="318.00" r="1.05" fill="#000"/>
<line x1="94.56" x2="94.56" y1="261.00" y2="278.00" stroke="#1a1a1a" stroke-width="0.78"/>
<line x1="94.56" x2="94.56" y1="305.00" y2="318.00" stroke="#1a1a1a" stroke-width="0.78"/>
<rect x="91.31" y="278.00" width="6.50" height="27.00" fill="#fff" stroke="#303030" stroke-width="0.86"/>
<line x1="91.31" x2="97.81" y1="287.30" y2="287.30" stroke="#1a1a1a" stroke-width="1.48"/>
<circle cx="103.22" cy="263.10" r="1.05" fill="#000"/>
<circle cx="103.22" cy="265.20" r="1.05" fill="#000"/>
<circle cx="103.22" cy="271.20" r="1.05" fill="#000"/>
<circle cx="103.22" cy="313.30" r="1.05" fill="#000"/>
<circle cx="103.22" cy="317.20" r="1.05" fill="#000"/>
<circle cx="103.22" cy="319.30" r="1.05" fill="#000"/>
<line x1="103.22" x2="103.22" y1="263.10" y2="274.10" stroke="#1a1a1a" stroke-width="0.78"/>
<line x1="103.22" x2="103.22" y1="309.70" y2="319.50" stroke="#1a1a1a" stroke-width="0.78"/>
<rect x="99.97" y="274.10" width="6.50" height="35.60" fill="#fff" stroke="#303030" stroke-width="0.86"/>
<line x1="99.97" x2="106.47" y1="299.30" y2="299.30" stroke="#1a1a1a" stroke-width="1.48"/>
<circle cx="111.88" cy="256.40" r="1.05" fill="#000"/>
<circle cx="111.88" cy="265.70" r="1.05" fill="#000"/>
<circle cx="111.88" cy="294.60" r="1.05" fill="#000"/>
<circle cx="111.88" cy="297.50" r="1.05" fill="#000"/>
<circle cx="111.88" cy="300.80" r="1.05" fill="#000"/>
<line x1="111.88" x2="111.88" y1="256.40" y2="267.00" stroke="#1a1a1a" stroke-width="0.78"/>
<line x1="111.88" x2="111.88" y1="290.30" y2="301.60" stroke="#1a1a1a" stroke-width="0.78"/>
<rect x="108.63" y="267.00" width="6.50" height="23.30" fill="#fff" stroke="#303030" stroke-width="0.86"/>
<line x1="108.63" x2="115.13" y1="271.80" y2="271.80" stroke="#1a1a1a" stroke-width="1.48"/>
<circle cx="120.54" cy="269.60" r="1.05" fill="#000"/>
<circle cx="120.54" cy="275.80" r="1.05" fill="#000"/>
<circle cx="120.54" cy="295.70" r="1.05" fill="#000"/>
<circle cx="120.54" cy="305.50" r="1.05" fill="#000"/>
<line x1="120.54" x2="120.54" y1="269.60" y2="281.30" stroke="#1a1a1a" stroke-width="0.78"/>
<line x1="120.54" x2="120.54" y1="293.50" y2="305.50" stroke="#1a1a1a" stroke-width="0.78"/>
<rect x="117.29" y="281.30" width="6.50" height="12.20" fill="#fff" stroke="#303030" stroke-width="0.86"/>
<line x1="117.29" x2="123.79" y1="285.20" y2="285.20" stroke="#1a1a1a" stroke-width="1.48"/>
<circle cx="129.20" cy="244.40" r="1.05" fill="#000"/>
<circle cx="129.20" cy="247.50" r="1.05" fill="#000"/>
<circle cx="129.20" cy="266.80" r="1.05" fill="#000"/>
<circle cx="129.20" cy="287.30" r="1.05" fill="#000"/>
<line x1="129.20" x2="129.20" y1="266.80" y2="270.00" stroke="#1a1a1a" stroke-width="0.78"/>
<line x1="129.20" x2="129.20" y1="283.00" y2="288.40" stroke="#1a1a1a" stroke-width="0.78"/>
<rect x="125.96" y="270.00" width="6.50" height="13.00" fill="#fff" stroke="#303030" stroke-width="0.86"/>
<line x1="125.96" x2="132.45" y1="279.80" y2="279.80" stroke="#1a1a1a" stroke-width="1.48"/>
<rect x="80.7" y="220.3" width="53.70" height="8.30" fill="#d9d9d9" stroke="#5e5e5e" stroke-width="1.05"/>
<text x="107.55" y="226.03" font-family='"Liberation Sans", sans-serif' font-size="4.4" text-anchor="middle" fill="#111" stroke="#111" stroke-width="0.22">Shannon</text>
<rect x="80.7" y="228.6" width="53.70" height="94.20" fill="none" stroke="#5e5e5e" stroke-width="1.05"/>
<line x1="78.80" x2="80.7" y1="233.00" y2="233.00" stroke="#333333" stroke-width="0.6"/>
<text x="77.50" y="234.37" font-family='"Liberation Sans", sans-serif' font-size="3.8" text-anchor="end" fill="#2e2e2e" stroke="#2e2e2e" stroke-width="0.15">3</text>
<line x1="78.80" x2="80.7" y1="262.30" y2="262.30" stroke="#333333" stroke-width="0.6"/>
<text x="77.50" y="263.67" font-family='"Liberation Sans", sans-serif' font-size="3.8" text-anchor="end" fill="#2e2e2e" stroke="#2e2e2e" stroke-width="0.15">2</text>
<line x1="78.80" x2="80.7" y1="291.60" y2="291.60" stroke="#333333" stroke-width="0.6"/>
<text x="77.50" y="292.97" font-family='"Liberation Sans", sans-serif' font-size="3.8" text-anchor="end" fill="#2e2e2e" stroke="#2e2e2e" stroke-width="0.15">1</text>
<line x1="78.80" x2="80.7" y1="320.90" y2="320.90" stroke="#333333" stroke-width="0.6"/>
<text x="77.50" y="322.27" font-family='"Liberation Sans", sans-serif' font-size="3.8" text-anchor="end" fill="#2e2e2e" stroke="#2e2e2e" stroke-width="0.15">0</text>
<line x1="85.90" x2="85.90" y1="322.8" y2="324.70" stroke="#333333" stroke-width="0.6"/>
<text transform="translate(84.49,325.60) rotate(90)" font-family='"Liberation Sans", sans-serif' font-size="3.9" text-anchor="start" fill="#2e2e2e" stroke="#2e2e2e" stroke-width="0.15">CN</text>
<line x1="94.56" x2="94.56" y1="322.8" y2="324.70" stroke="#333333" stroke-width="0.6"/>
<text transform="translate(93.15,325.60) rotate(90)" font-family='"Liberation Sans", sans-serif' font-size="3.9" text-anchor="start" fill="#2e2e2e" stroke="#2e2e2e" stroke-width="0.15">CH</text>
<line x1="103.22" x2="103.22" y1="322.8" y2="324.70" stroke="#333333" stroke-width="0.6"/>
<text transform="translate(101.82,325.60) rotate(90)" font-family='"Liberation Sans", sans-serif' font-size="3.9" text-anchor="start" fill="#2e2e2e" stroke="#2e2e2e" stroke-width="0.15">SF -</text>
<line x1="111.88" x2="111.88" y1="322.8" y2="324.70" stroke="#333333" stroke-width="0.6"/>
<text transform="translate(110.48,325.60) rotate(90)" font-family='"Liberation Sans", sans-serif' font-size="3.9" text-anchor="start" fill="#2e2e2e" stroke="#2e2e2e" stroke-width="0.15">SF +</text>
<line x1="120.54" x2="120.54" y1="322.8" y2="324.70" stroke="#333333" stroke-width="0.6"/>
<text transform="translate(119.14,325.60) rotate(90)" font-family='"Liberation Sans", sans-serif' font-size="3.9" text-anchor="start" fill="#2e2e2e" stroke="#2e2e2e" stroke-width="0.15">Fi -</text>
<line x1="129.20" x2="129.20" y1="322.8" y2="324.70" stroke="#333333" stroke-width="0.6"/>
<text transform="translate(127.80,325.60) rotate(90)" font-family='"Liberation Sans", sans-serif' font-size="3.9" text-anchor="start" fill="#2e2e2e" stroke="#2e2e2e" stroke-width="0.15">Fi +</text>
</g>
<g>
<rect x="141.6" y="228.6" width="54.40" height="94.20" fill="#fff"/>
<line x1="141.6" x2="196.0" y1="239.45" y2="239.45" stroke="#eeeeee" stroke-width="0.3"/>
<line x1="141.6" x2="196.0" y1="264.55" y2="264.55" stroke="#eeeeee" stroke-width="0.3"/>
<line x1="141.6" x2="196.0" y1="289.65" y2="289.65" stroke="#eeeeee" stroke-width="0.3"/>
<line x1="141.6" x2="196.0" y1="314.75" y2="314.75" stroke="#eeeeee" stroke-width="0.3"/>
<line x1="141.6" x2="196.0" y1="252.00" y2="252.00" stroke="#eeeeee" stroke-width="0.55"/>
<line x1="141.6" x2="196.0" y1="277.10" y2="277.10" stroke="#eeeeee" stroke-width="0.55"/>
<line x1="141.6" x2="196.0" y1="302.20" y2="302.20" stroke="#eeeeee" stroke-width="0.55"/>
<line x1="146.86" x2="146.86" y1="228.6" y2="322.8" stroke="#eeeeee" stroke-width="0.55"/>
<line x1="155.64" x2="155.64" y1="228.6" y2="322.8" stroke="#eeeeee" stroke-width="0.55"/>
<line x1="164.41" x2="164.41" y1="228.6" y2="322.8" stroke="#eeeeee" stroke-width="0.55"/>
<line x1="173.19" x2="173.19" y1="228.6" y2="322.8" stroke="#eeeeee" stroke-width="0.55"/>
<line x1="181.96" x2="181.96" y1="228.6" y2="322.8" stroke="#eeeeee" stroke-width="0.55"/>
<line x1="190.74" x2="190.74" y1="228.6" y2="322.8" stroke="#eeeeee" stroke-width="0.55"/>
<circle cx="146.86" cy="297.70" r="1.05" fill="#000"/>
<circle cx="146.86" cy="299.30" r="1.05" fill="#000"/>
<circle cx="146.86" cy="316.00" r="1.05" fill="#000"/>
<circle cx="146.86" cy="317.60" r="1.05" fill="#000"/>
<line x1="146.86" x2="146.86" y1="297.70" y2="300.80" stroke="#1a1a1a" stroke-width="0.78"/>
<line x1="146.86" x2="146.86" y1="314.80" y2="317.60" stroke="#1a1a1a" stroke-width="0.78"/>
<rect x="143.57" y="300.80" width="6.58" height="14.00" fill="#fff" stroke="#303030" stroke-width="0.86"/>
<line x1="143.57" x2="150.15" y1="310.20" y2="310.20" stroke="#1a1a1a" stroke-width="1.48"/>
<circle cx="155.64" cy="232.70" r="1.05" fill="#000"/>
<circle cx="155.64" cy="277.10" r="1.05" fill="#000"/>
<circle cx="155.64" cy="318.70" r="1.05" fill="#000"/>
<line x1="155.64" x2="155.64" y1="302.80" y2="303.60" stroke="#1a1a1a" stroke-width="0.78"/>
<line x1="155.64" x2="155.64" y1="316.40" y2="318.70" stroke="#1a1a1a" stroke-width="0.78"/>
<rect x="152.35" y="303.60" width="6.58" height="12.80" fill="#fff" stroke="#303030" stroke-width="0.86"/>
<line x1="152.35" x2="158.93" y1="308.60" y2="308.60" stroke="#1a1a1a" stroke-width="1.48"/>
<circle cx="164.41" cy="293.80" r="1.05" fill="#000"/>
<circle cx="164.41" cy="296.00" r="1.05" fill="#000"/>
<circle cx="164.41" cy="299.00" r="1.05" fill="#000"/>
<circle cx="164.41" cy="319.50" r="1.05" fill="#000"/>
<line x1="164.41" x2="164.41" y1="293.80" y2="302.40" stroke="#1a1a1a" stroke-width="0.78"/>
<line x1="164.41" x2="164.41" y1="318.00" y2="319.50" stroke="#1a1a1a" stroke-width="0.78"/>
<rect x="161.12" y="302.40" width="6.58" height="15.60" fill="#fff" stroke="#303030" stroke-width="0.86"/>
<line x1="161.12" x2="167.70" y1="316.00" y2="316.00" stroke="#1a1a1a" stroke-width="1.48"/>
<circle cx="173.19" cy="288.40" r="1.05" fill="#000"/>
<circle cx="173.19" cy="290.50" r="1.05" fill="#000"/>
<circle cx="173.19" cy="313.00" r="1.05" fill="#000"/>
<circle cx="173.19" cy="316.40" r="1.05" fill="#000"/>
<line x1="173.19" x2="173.19" y1="288.40" y2="293.00" stroke="#1a1a1a" stroke-width="0.78"/>
<line x1="173.19" x2="173.19" y1="310.20" y2="316.40" stroke="#1a1a1a" stroke-width="0.78"/>
<rect x="169.90" y="293.00" width="6.58" height="17.20" fill="#fff" stroke="#303030" stroke-width="0.86"/>
<line x1="169.90" x2="176.48" y1="299.00" y2="299.00" stroke="#1a1a1a" stroke-width="1.48"/>
<circle cx="181.96" cy="293.80" r="1.05" fill="#000"/>
<circle cx="181.96" cy="303.20" r="1.05" fill="#000"/>
<circle cx="181.96" cy="305.00" r="1.05" fill="#000"/>
<circle cx="181.96" cy="315.00" r="1.05" fill="#000"/>
<circle cx="181.96" cy="317.60" r="1.05" fill="#000"/>
<line x1="181.96" x2="181.96" y1="303.20" y2="306.30" stroke="#1a1a1a" stroke-width="0.78"/>
<line x1="181.96" x2="181.96" y1="312.80" y2="317.60" stroke="#1a1a1a" stroke-width="0.78"/>
<rect x="178.67" y="306.30" width="6.58" height="6.50" fill="#fff" stroke="#303030" stroke-width="0.86"/>
<line x1="178.67" x2="185.25" y1="308.10" y2="308.10" stroke="#1a1a1a" stroke-width="1.48"/>
<circle cx="190.74" cy="270.40" r="1.05" fill="#000"/>
<circle cx="190.74" cy="284.80" r="1.05" fill="#000"/>
<circle cx="190.74" cy="309.30" r="1.05" fill="#000"/>
<circle cx="190.74" cy="311.00" r="1.05" fill="#000"/>
<line x1="190.74" x2="190.74" y1="284.80" y2="297.00" stroke="#1a1a1a" stroke-width="0.78"/>
<line x1="190.74" x2="190.74" y1="307.80" y2="311.00" stroke="#1a1a1a" stroke-width="0.78"/>
<rect x="187.45" y="297.00" width="6.58" height="10.80" fill="#fff" stroke="#303030" stroke-width="0.86"/>
<line x1="187.45" x2="194.03" y1="306.00" y2="306.00" stroke="#1a1a1a" stroke-width="1.48"/>
<rect x="141.6" y="220.3" width="54.40" height="8.30" fill="#d9d9d9" stroke="#5e5e5e" stroke-width="1.05"/>
<text x="168.80" y="226.03" font-family='"Liberation Sans", sans-serif' font-size="4.4" text-anchor="middle" fill="#111" stroke="#111" stroke-width="0.22">InvSimpson</text>
<rect x="141.6" y="228.6" width="54.40" height="94.20" fill="none" stroke="#5e5e5e" stroke-width="1.05"/>
<line x1="139.70" x2="141.6" y1="252.00" y2="252.00" stroke="#333333" stroke-width="0.6"/>
<text x="138.40" y="253.37" font-family='"Liberation Sans", sans-serif' font-size="3.8" text-anchor="end" fill="#2e2e2e" stroke="#2e2e2e" stroke-width="0.15">9</text>
<line x1="139.70" x2="141.6" y1="277.10" y2="277.10" stroke="#333333" stroke-width="0.6"/>
<text x="138.40" y="278.47" font-family='"Liberation Sans", sans-serif' font-size="3.8" text-anchor="end" fill="#2e2e2e" stroke="#2e2e2e" stroke-width="0.15">6</text>
<line x1="139.70" x2="141.6" y1="302.20" y2="302.20" stroke="#333333" stroke-width="0.6"/>
<text x="138.40" y="303.57" font-family='"Liberation Sans", sans-serif' font-size="3.8" text-anchor="end" fill="#2e2e2e" stroke="#2e2e2e" stroke-width="0.15">3</text>
<line x1="146.86" x2="146.86" y1="322.8" y2="324.70" stroke="#333333" stroke-width="0.6"/>
<text transform="translate(145.46,325.60) rotate(90)" font-family='"Liberation Sans", sans-serif' font-size="3.9" text-anchor="start" fill="#2e2e2e" stroke="#2e2e2e" stroke-width="0.15">CN</text>
<line x1="155.64" x2="155.64" y1="322.8" y2="324.70" stroke="#333333" stroke-width="0.6"/>
<text transform="translate(154.23,325.60) rotate(90)" font-family='"Liberation Sans", sans-serif' font-size="3.9" text-anchor="start" fill="#2e2e2e" stroke="#2e2e2e" stroke-width="0.15">CH</text>
<line x1="164.41" x2="164.41" y1="322.8" y2="324.70" stroke="#333333" stroke-width="0.6"/>
<text transform="translate(163.01,325.60) rotate(90)" font-family='"Liberation Sans", sans-serif' font-size="3.9" text-anchor="start" fill="#2e2e2e" stroke="#2e2e2e" stroke-width="0.15">SF -</text>
<line x1="173.19" x2="173.19" y1="322.8" y2="324.70" stroke="#333333" stroke-width="0.6"/>
<text transform="translate(171.78,325.60) rotate(90)" font-family='"Liberation Sans", sans-serif' font-size="3.9" text-anchor="start" fill="#2e2e2e" stroke="#2e2e2e" stroke-width="0.15">SF +</text>
<line x1="181.96" x2="181.96" y1="322.8" y2="324.70" stroke="#333333" stroke-width="0.6"/>
<text transform="translate(180.56,325.60) rotate(90)" font-family='"Liberation Sans", sans-serif' font-size="3.9" text-anchor="start" fill="#2e2e2e" stroke="#2e2e2e" stroke-width="0.15">Fi -</text>
<line x1="190.74" x2="190.74" y1="322.8" y2="324.70" stroke="#333333" stroke-width="0.6"/>
<text transform="translate(189.33,325.60) rotate(90)" font-family='"Liberation Sans", sans-serif' font-size="3.9" text-anchor="start" fill="#2e2e2e" stroke="#2e2e2e" stroke-width="0.15">Fi +</text>
</g>
<text transform="translate(8.3,271.5) rotate(-90)" font-family='"Liberation Sans", sans-serif' font-size="4.7" text-anchor="middle" fill="#000" stroke="#000" stroke-width="0.3">Alpha Diversity Measure</text>
<text x="108.0" y="339.0" font-family='"Liberation Sans", sans-serif' font-size="4.8" text-anchor="middle" fill="#000" stroke="#000" stroke-width="0.3">Treatment</text>
<g>
<rect x="222.9" y="228.5" width="53.10" height="94.50" fill="#fff"/>
<line x1="222.9" x2="276.0" y1="240.50" y2="240.50" stroke="#eeeeee" stroke-width="0.3"/>
<line x1="222.9" x2="276.0" y1="265.50" y2="265.50" stroke="#eeeeee" stroke-width="0.3"/>
<line x1="222.9" x2="276.0" y1="290.50" y2="290.50" stroke="#eeeeee" stroke-width="0.3"/>
<line x1="222.9" x2="276.0" y1="315.50" y2="315.50" stroke="#eeeeee" stroke-width="0.3"/>
<line x1="222.9" x2="276.0" y1="253.00" y2="253.00" stroke="#eeeeee" stroke-width="0.55"/>
<line x1="222.9" x2="276.0" y1="278.00" y2="278.00" stroke="#eeeeee" stroke-width="0.55"/>
<line x1="222.9" x2="276.0" y1="303.00" y2="303.00" stroke="#eeeeee" stroke-width="0.55"/>
<line x1="228.04" x2="228.04" y1="228.5" y2="323.0" stroke="#eeeeee" stroke-width="0.55"/>
<line x1="236.60" x2="236.60" y1="228.5" y2="323.0" stroke="#eeeeee" stroke-width="0.55"/>
<line x1="245.17" x2="245.17" y1="228.5" y2="323.0" stroke="#eeeeee" stroke-width="0.55"/>
<line x1="253.73" x2="253.73" y1="228.5" y2="323.0" stroke="#eeeeee" stroke-width="0.55"/>
<line x1="262.30" x2="262.30" y1="228.5" y2="323.0" stroke="#eeeeee" stroke-width="0.55"/>
<line x1="270.86" x2="270.86" y1="228.5" y2="323.0" stroke="#eeeeee" stroke-width="0.55"/>
<circle cx="228.04" cy="262.00" r="0.65" fill="#000"/>
<circle cx="228.04" cy="265.50" r="1.05" fill="#000"/>
<circle cx="228.04" cy="268.50" r="0.65" fill="#000"/>
<circle cx="228.04" cy="271.50" r="1.05" fill="#000"/>
<circle cx="228.04" cy="274.50" r="0.65" fill="#000"/>
<circle cx="228.04" cy="285.00" r="0.65" fill="#000"/>
<circle cx="228.04" cy="287.00" r="0.65" fill="#000"/>
<circle cx="228.04" cy="312.00" r="1.05" fill="#000"/>
<circle cx="228.04" cy="314.40" r="1.05" fill="#000"/>
<line x1="228.04" x2="228.04" y1="261.00" y2="276.40" stroke="#1a1a1a" stroke-width="0.85"/>
<line x1="228.04" x2="228.04" y1="283.00" y2="287.00" stroke="#1a1a1a" stroke-width="0.85"/>
<rect x="224.83" y="276.40" width="6.42" height="6.60" fill="#fff" stroke="#303030" stroke-width="0.86"/>
<line x1="224.83" x2="231.25" y1="279.60" y2="279.60" stroke="#1a1a1a" stroke-width="1.48"/>
<circle cx="236.60" cy="263.00" r="0.65" fill="#000"/>
<circle cx="236.60" cy="266.50" r="1.05" fill="#000"/>
<circle cx="236.60" cy="269.50" r="0.65" fill="#000"/>
<circle cx="236.60" cy="272.00" r="1.05" fill="#000"/>
<circle cx="236.60" cy="316.40" r="1.05" fill="#000"/>
<circle cx="236.60" cy="318.80" r="0.65" fill="#000"/>
<line x1="236.60" x2="236.60" y1="262.00" y2="274.40" stroke="#1a1a1a" stroke-width="0.85"/>
<line x1="236.60" x2="236.60" y1="294.00" y2="319.00" stroke="#1a1a1a" stroke-width="0.85"/>
<rect x="233.39" y="274.40" width="6.42" height="19.60" fill="#fff" stroke="#303030" stroke-width="0.86"/>
<line x1="233.39" x2="239.81" y1="287.00" y2="287.00" stroke="#1a1a1a" stroke-width="1.48"/>
<circle cx="245.17" cy="252.00" r="0.65" fill="#000"/>
<circle cx="245.17" cy="255.50" r="1.05" fill="#000"/>
<circle cx="245.17" cy="259.00" r="0.65" fill="#000"/>
<circle cx="245.17" cy="262.50" r="1.05" fill="#000"/>
<circle cx="245.17" cy="266.00" r="0.65" fill="#000"/>
<circle cx="245.17" cy="270.00" r="1.05" fill="#000"/>
<circle cx="245.17" cy="293.00" r="0.65" fill="#000"/>
<circle cx="245.17" cy="296.00" r="1.05" fill="#000"/>
<circle cx="245.17" cy="299.00" r="1.05" fill="#000"/>
<line x1="245.17" x2="245.17" y1="251.00" y2="273.00" stroke="#1a1a1a" stroke-width="0.85"/>
<line x1="245.17" x2="245.17" y1="290.00" y2="301.00" stroke="#1a1a1a" stroke-width="0.85"/>
<rect x="241.96" y="273.00" width="6.42" height="17.00" fill="#fff" stroke="#303030" stroke-width="0.86"/>
<line x1="241.96" x2="248.38" y1="281.40" y2="281.40" stroke="#1a1a1a" stroke-width="1.48"/>
<circle cx="253.73" cy="257.00" r="0.65" fill="#000"/>
<circle cx="253.73" cy="260.00" r="1.05" fill="#000"/>
<circle cx="253.73" cy="263.50" r="0.65" fill="#000"/>
<circle cx="253.73" cy="267.00" r="1.05" fill="#000"/>
<circle cx="253.73" cy="286.50" r="0.65" fill="#000"/>
<circle cx="253.73" cy="289.50" r="1.05" fill="#000"/>
<circle cx="253.73" cy="292.50" r="0.65" fill="#000"/>
<circle cx="253.73" cy="308.00" r="1.05" fill="#000"/>
<line x1="253.73" x2="253.73" y1="256.40" y2="271.00" stroke="#1a1a1a" stroke-width="0.85"/>
<line x1="253.73" x2="253.73" y1="284.00" y2="293.00" stroke="#1a1a1a" stroke-width="0.85"/>
<rect x="250.52" y="271.00" width="6.42" height="13.00" fill="#fff" stroke="#303030" stroke-width="0.86"/>
<line x1="250.52" x2="256.94" y1="278.00" y2="278.00" stroke="#1a1a1a" stroke-width="1.48"/>
<circle cx="262.30" cy="249.00" r="0.65" fill="#000"/>
<circle cx="262.30" cy="252.00" r="1.05" fill="#000"/>
<circle cx="262.30" cy="255.50" r="0.65" fill="#000"/>
<circle cx="262.30" cy="285.00" r="0.65" fill="#000"/>
<circle cx="262.30" cy="287.50" r="1.05" fill="#000"/>
<circle cx="262.30" cy="290.50" r="0.65" fill="#000"/>
<line x1="262.30" x2="262.30" y1="248.00" y2="259.00" stroke="#1a1a1a" stroke-width="0.85"/>
<line x1="262.30" x2="262.30" y1="283.00" y2="292.00" stroke="#1a1a1a" stroke-width="0.85"/>
<rect x="259.09" y="259.00" width="6.42" height="24.00" fill="#fff" stroke="#303030" stroke-width="0.86"/>
<line x1="259.09" x2="265.51" y1="279.60" y2="279.60" stroke="#1a1a1a" stroke-width="1.48"/>
<circle cx="270.86" cy="233.00" r="0.65" fill="#000"/>
<circle cx="270.86" cy="237.00" r="1.05" fill="#000"/>
<circle cx="270.86" cy="241.50" r="1.05" fill="#000"/>
<circle cx="270.86" cy="246.00" r="0.65" fill="#000"/>
<circle cx="270.86" cy="251.00" r="0.65" fill="#000"/>
<circle cx="270.86" cy="256.00" r="1.05" fill="#000"/>
<circle cx="270.86" cy="284.00" r="0.65" fill="#000"/>
<circle cx="270.86" cy="288.00" r="1.05" fill="#000"/>
<circle cx="270.86" cy="292.00" r="1.05" fill="#000"/>
<line x1="270.86" x2="270.86" y1="232.00" y2="261.00" stroke="#1a1a1a" stroke-width="0.85"/>
<line x1="270.86" x2="270.86" y1="281.00" y2="294.00" stroke="#1a1a1a" stroke-width="0.85"/>
<rect x="267.65" y="261.00" width="6.42" height="20.00" fill="#fff" stroke="#303030" stroke-width="0.86"/>
<line x1="267.65" x2="274.07" y1="271.00" y2="271.00" stroke="#1a1a1a" stroke-width="1.48"/>
<rect x="222.9" y="220.0" width="53.10" height="8.50" fill="#d9d9d9" stroke="#5e5e5e" stroke-width="1.05"/>
<text x="249.45" y="225.83" font-family='"Liberation Sans", sans-serif' font-size="4.4" text-anchor="middle" fill="#111" stroke="#111" stroke-width="0.22">Chao1</text>
<rect x="222.9" y="228.5" width="53.10" height="94.50" fill="none" stroke="#5e5e5e" stroke-width="1.05"/>
<line x1="221.00" x2="222.9" y1="253.00" y2="253.00" stroke="#333333" stroke-width="0.6"/>
<text x="219.70" y="254.37" font-family='"Liberation Sans", sans-serif' font-size="3.8" text-anchor="end" fill="#2e2e2e" stroke="#2e2e2e" stroke-width="0.15">700</text>
<line x1="221.00" x2="222.9" y1="278.00" y2="278.00" stroke="#333333" stroke-width="0.6"/>
<text x="219.70" y="279.37" font-family='"Liberation Sans", sans-serif' font-size="3.8" text-anchor="end" fill="#2e2e2e" stroke="#2e2e2e" stroke-width="0.15">500</text>
<line x1="221.00" x2="222.9" y1="303.00" y2="303.00" stroke="#333333" stroke-width="0.6"/>
<text x="219.70" y="304.37" font-family='"Liberation Sans", sans-serif' font-size="3.8" text-anchor="end" fill="#2e2e2e" stroke="#2e2e2e" stroke-width="0.15">300</text>
<line x1="228.04" x2="228.04" y1="323.0" y2="324.90" stroke="#333333" stroke-width="0.6"/>
<text transform="translate(226.63,325.80) rotate(90)" font-family='"Liberation Sans", sans-serif' font-size="3.9" text-anchor="start" fill="#2e2e2e" stroke="#2e2e2e" stroke-width="0.15">CN</text>
<line x1="236.60" x2="236.60" y1="323.0" y2="324.90" stroke="#333333" stroke-width="0.6"/>
<text transform="translate(235.20,325.80) rotate(90)" font-family='"Liberation Sans", sans-serif' font-size="3.9" text-anchor="start" fill="#2e2e2e" stroke="#2e2e2e" stroke-width="0.15">CH</text>
<line x1="245.17" x2="245.17" y1="323.0" y2="324.90" stroke="#333333" stroke-width="0.6"/>
<text transform="translate(243.76,325.80) rotate(90)" font-family='"Liberation Sans", sans-serif' font-size="3.9" text-anchor="start" fill="#2e2e2e" stroke="#2e2e2e" stroke-width="0.15">SF -</text>
<line x1="253.73" x2="253.73" y1="323.0" y2="324.90" stroke="#333333" stroke-width="0.6"/>
<text transform="translate(252.33,325.80) rotate(90)" font-family='"Liberation Sans", sans-serif' font-size="3.9" text-anchor="start" fill="#2e2e2e" stroke="#2e2e2e" stroke-width="0.15">SF +</text>
<line x1="262.30" x2="262.30" y1="323.0" y2="324.90" stroke="#333333" stroke-width="0.6"/>
<text transform="translate(260.89,325.80) rotate(90)" font-family='"Liberation Sans", sans-serif' font-size="3.9" text-anchor="start" fill="#2e2e2e" stroke="#2e2e2e" stroke-width="0.15">Fi -</text>
<line x1="270.86" x2="270.86" y1="323.0" y2="324.90" stroke="#333333" stroke-width="0.6"/>
<text transform="translate(269.46,325.80) rotate(90)" font-family='"Liberation Sans", sans-serif' font-size="3.9" text-anchor="start" fill="#2e2e2e" stroke="#2e2e2e" stroke-width="0.15">Fi +</text>
</g>
<g>
<rect x="283.5" y="228.5" width="52.50" height="94.50" fill="#fff"/>
<line x1="283.5" x2="336.0" y1="235.80" y2="235.80" stroke="#eeeeee" stroke-width="0.3"/>
<line x1="283.5" x2="336.0" y1="273.00" y2="273.00" stroke="#eeeeee" stroke-width="0.3"/>
<line x1="283.5" x2="336.0" y1="310.20" y2="310.20" stroke="#eeeeee" stroke-width="0.3"/>
<line x1="283.5" x2="336.0" y1="254.40" y2="254.40" stroke="#eeeeee" stroke-width="0.55"/>
<line x1="283.5" x2="336.0" y1="291.60" y2="291.60" stroke="#eeeeee" stroke-width="0.55"/>
<line x1="288.58" x2="288.58" y1="228.5" y2="323.0" stroke="#eeeeee" stroke-width="0.55"/>
<line x1="297.05" x2="297.05" y1="228.5" y2="323.0" stroke="#eeeeee" stroke-width="0.55"/>
<line x1="305.52" x2="305.52" y1="228.5" y2="323.0" stroke="#eeeeee" stroke-width="0.55"/>
<line x1="313.98" x2="313.98" y1="228.5" y2="323.0" stroke="#eeeeee" stroke-width="0.55"/>
<line x1="322.45" x2="322.45" y1="228.5" y2="323.0" stroke="#eeeeee" stroke-width="0.55"/>
<line x1="330.92" x2="330.92" y1="228.5" y2="323.0" stroke="#eeeeee" stroke-width="0.55"/>
<circle cx="288.58" cy="243.40" r="1.05" fill="#000"/>
<circle cx="288.58" cy="266.00" r="1.05" fill="#000"/>
<circle cx="288.58" cy="305.00" r="1.05" fill="#000"/>
<circle cx="288.58" cy="319.00" r="1.05" fill="#000"/>
<line x1="288.58" x2="288.58" y1="243.40" y2="269.00" stroke="#1a1a1a" stroke-width="0.78"/>
<line x1="288.58" x2="288.58" y1="297.60" y2="319.00" stroke="#1a1a1a" stroke-width="0.78"/>
<rect x="285.41" y="269.00" width="6.35" height="28.60" fill="#fff" stroke="#303030" stroke-width="0.86"/>
<line x1="285.41" x2="291.76" y1="272.60" y2="272.60" stroke="#1a1a1a" stroke-width="1.48"/>
<circle cx="297.05" cy="247.60" r="1.05" fill="#000"/>
<circle cx="297.05" cy="263.00" r="1.05" fill="#000"/>
<circle cx="297.05" cy="303.00" r="1.05" fill="#000"/>
<circle cx="297.05" cy="308.00" r="1.05" fill="#000"/>
<circle cx="297.05" cy="309.40" r="1.05" fill="#000"/>
<line x1="297.05" x2="297.05" y1="247.60" y2="265.40" stroke="#1a1a1a" stroke-width="0.78"/>
<line x1="297.05" x2="297.05" y1="295.60" y2="309.40" stroke="#1a1a1a" stroke-width="0.78"/>
<rect x="293.87" y="265.40" width="6.35" height="30.20" fill="#fff" stroke="#303030" stroke-width="0.86"/>
<line x1="293.87" x2="300.22" y1="268.40" y2="268.40" stroke="#1a1a1a" stroke-width="1.48"/>
<circle cx="305.52" cy="249.60" r="1.05" fill="#000"/>
<circle cx="305.52" cy="283.60" r="1.05" fill="#000"/>
<circle cx="305.52" cy="304.40" r="1.05" fill="#000"/>
<line x1="305.52" x2="305.52" y1="249.60" y2="256.40" stroke="#1a1a1a" stroke-width="0.78"/>
<line x1="305.52" x2="305.52" y1="280.40" y2="304.40" stroke="#1a1a1a" stroke-width="0.78"/>
<rect x="302.34" y="256.40" width="6.35" height="24.00" fill="#fff" stroke="#303030" stroke-width="0.86"/>
<line x1="302.34" x2="308.69" y1="267.60" y2="267.60" stroke="#1a1a1a" stroke-width="1.48"/>
<circle cx="313.98" cy="232.40" r="1.05" fill="#000"/>
<circle cx="313.98" cy="251.00" r="1.05" fill="#000"/>
<circle cx="313.98" cy="254.00" r="1.05" fill="#000"/>
<circle cx="313.98" cy="275.00" r="1.05" fill="#000"/>
<circle cx="313.98" cy="277.00" r="1.05" fill="#000"/>
<circle cx="313.98" cy="301.00" r="1.05" fill="#000"/>
<line x1="313.98" x2="313.98" y1="251.00" y2="260.00" stroke="#1a1a1a" stroke-width="0.78"/>
<line x1="313.98" x2="313.98" y1="272.20" y2="277.00" stroke="#1a1a1a" stroke-width="0.78"/>
<rect x="310.81" y="260.00" width="6.35" height="12.20" fill="#fff" stroke="#303030" stroke-width="0.86"/>
<line x1="310.81" x2="317.16" y1="261.60" y2="261.60" stroke="#1a1a1a" stroke-width="1.48"/>
<circle cx="322.45" cy="241.60" r="1.05" fill="#000"/>
<circle cx="322.45" cy="245.00" r="1.05" fill="#000"/>
<circle cx="322.45" cy="278.40" r="1.05" fill="#000"/>
<circle cx="322.45" cy="279.80" r="1.05" fill="#000"/>
<line x1="322.45" x2="322.45" y1="241.60" y2="247.60" stroke="#1a1a1a" stroke-width="0.78"/>
<line x1="322.45" x2="322.45" y1="275.30" y2="279.60" stroke="#1a1a1a" stroke-width="0.78"/>
<rect x="319.28" y="247.60" width="6.35" height="27.70" fill="#fff" stroke="#303030" stroke-width="0.86"/>
<line x1="319.28" x2="325.63" y1="266.00" y2="266.00" stroke="#1a1a1a" stroke-width="1.48"/>
<circle cx="330.92" cy="240.40" r="1.05" fill="#000"/>
<circle cx="330.92" cy="243.00" r="1.05" fill="#000"/>
<circle cx="330.92" cy="269.00" r="1.05" fill="#000"/>
<circle cx="330.92" cy="271.50" r="1.05" fill="#000"/>
<circle cx="330.92" cy="277.00" r="1.05" fill="#000"/>
<circle cx="330.92" cy="288.00" r="1.05" fill="#000"/>
<line x1="330.92" x2="330.92" y1="240.40" y2="246.40" stroke="#1a1a1a" stroke-width="0.78"/>
<line x1="330.92" x2="330.92" y1="266.30" y2="288.00" stroke="#1a1a1a" stroke-width="0.78"/>
<rect x="327.74" y="246.40" width="6.35" height="19.90" fill="#fff" stroke="#303030" stroke-width="0.86"/>
<line x1="327.74" x2="334.09" y1="249.00" y2="249.00" stroke="#1a1a1a" stroke-width="1.48"/>
<rect x="283.5" y="220.0" width="52.50" height="8.50" fill="#d9d9d9" stroke="#5e5e5e" stroke-width="1.05"/>
<text x="309.75" y="225.83" font-family='"Liberation Sans", sans-serif' font-size="4.4" text-anchor="middle" fill="#111" stroke="#111" stroke-width="0.22">Shannon</text>
<rect x="283.5" y="228.5" width="52.50" height="94.50" fill="none" stroke="#5e5e5e" stroke-width="1.05"/>
<line x1="281.60" x2="283.5" y1="254.40" y2="254.40" stroke="#333333" stroke-width="0.6"/>
<text x="280.30" y="255.77" font-family='"Liberation Sans", sans-serif' font-size="3.8" text-anchor="end" fill="#2e2e2e" stroke="#2e2e2e" stroke-width="0.15">4</text>
<line x1="281.60" x2="283.5" y1="291.60" y2="291.60" stroke="#333333" stroke-width="0.6"/>
<text x="280.30" y="292.97" font-family='"Liberation Sans", sans-serif' font-size="3.8" text-anchor="end" fill="#2e2e2e" stroke="#2e2e2e" stroke-width="0.15">3</text>
<line x1="288.58" x2="288.58" y1="323.0" y2="324.90" stroke="#333333" stroke-width="0.6"/>
<text transform="translate(287.18,325.80) rotate(90)" font-family='"Liberation Sans", sans-serif' font-size="3.9" text-anchor="start" fill="#2e2e2e" stroke="#2e2e2e" stroke-width="0.15">CN</text>
<line x1="297.05" x2="297.05" y1="323.0" y2="324.90" stroke="#333333" stroke-width="0.6"/>
<text transform="translate(295.64,325.80) rotate(90)" font-family='"Liberation Sans", sans-serif' font-size="3.9" text-anchor="start" fill="#2e2e2e" stroke="#2e2e2e" stroke-width="0.15">CH</text>
<line x1="305.52" x2="305.52" y1="323.0" y2="324.90" stroke="#333333" stroke-width="0.6"/>
<text transform="translate(304.11,325.80) rotate(90)" font-family='"Liberation Sans", sans-serif' font-size="3.9" text-anchor="start" fill="#2e2e2e" stroke="#2e2e2e" stroke-width="0.15">SF -</text>
<line x1="313.98" x2="313.98" y1="323.0" y2="324.90" stroke="#333333" stroke-width="0.6"/>
<text transform="translate(312.58,325.80) rotate(90)" font-family='"Liberation Sans", sans-serif' font-size="3.9" text-anchor="start" fill="#2e2e2e" stroke="#2e2e2e" stroke-width="0.15">SF +</text>
<line x1="322.45" x2="322.45" y1="323.0" y2="324.90" stroke="#333333" stroke-width="0.6"/>
<text transform="translate(321.05,325.80) rotate(90)" font-family='"Liberation Sans", sans-serif' font-size="3.9" text-anchor="start" fill="#2e2e2e" stroke="#2e2e2e" stroke-width="0.15">Fi -</text>
<line x1="330.92" x2="330.92" y1="323.0" y2="324.90" stroke="#333333" stroke-width="0.6"/>
<text transform="translate(329.52,325.80) rotate(90)" font-family='"Liberation Sans", sans-serif' font-size="3.9" text-anchor="start" fill="#2e2e2e" stroke="#2e2e2e" stroke-width="0.15">Fi +</text>
</g>
<g>
<rect x="346.0" y="228.5" width="53.00" height="94.50" fill="#fff"/>
<line x1="346.0" x2="399.0" y1="239.80" y2="239.80" stroke="#eeeeee" stroke-width="0.3"/>
<line x1="346.0" x2="399.0" y1="264.60" y2="264.60" stroke="#eeeeee" stroke-width="0.3"/>
<line x1="346.0" x2="399.0" y1="289.40" y2="289.40" stroke="#eeeeee" stroke-width="0.3"/>
<line x1="346.0" x2="399.0" y1="314.20" y2="314.20" stroke="#eeeeee" stroke-width="0.3"/>
<line x1="346.0" x2="399.0" y1="252.20" y2="252.20" stroke="#eeeeee" stroke-width="0.55"/>
<line x1="346.0" x2="399.0" y1="277.00" y2="277.00" stroke="#eeeeee" stroke-width="0.55"/>
<line x1="346.0" x2="399.0" y1="301.80" y2="301.80" stroke="#eeeeee" stroke-width="0.55"/>
<line x1="351.13" x2="351.13" y1="228.5" y2="323.0" stroke="#eeeeee" stroke-width="0.55"/>
<line x1="359.68" x2="359.68" y1="228.5" y2="323.0" stroke="#eeeeee" stroke-width="0.55"/>
<line x1="368.23" x2="368.23" y1="228.5" y2="323.0" stroke="#eeeeee" stroke-width="0.55"/>
<line x1="376.77" x2="376.77" y1="228.5" y2="323.0" stroke="#eeeeee" stroke-width="0.55"/>
<line x1="385.32" x2="385.32" y1="228.5" y2="323.0" stroke="#eeeeee" stroke-width="0.55"/>
<line x1="393.87" x2="393.87" y1="228.5" y2="323.0" stroke="#eeeeee" stroke-width="0.55"/>
<circle cx="351.13" cy="246.70" r="1.05" fill="#000"/>
<circle cx="351.13" cy="285.70" r="1.05" fill="#000"/>
<circle cx="351.13" cy="288.70" r="1.05" fill="#000"/>
<circle cx="351.13" cy="313.80" r="1.05" fill="#000"/>
<circle cx="351.13" cy="316.20" r="1.05" fill="#000"/>
<circle cx="351.13" cy="318.70" r="1.05" fill="#000"/>
<line x1="351.13" x2="351.13" y1="285.70" y2="293.20" stroke="#1a1a1a" stroke-width="0.78"/>
<line x1="351.13" x2="351.13" y1="311.20" y2="318.70" stroke="#1a1a1a" stroke-width="0.78"/>
<rect x="347.92" y="293.20" width="6.41" height="18.00" fill="#fff" stroke="#303030" stroke-width="0.86"/>
<line x1="347.92" x2="354.33" y1="303.00" y2="303.00" stroke="#1a1a1a" stroke-width="1.48"/>
<circle cx="359.68" cy="270.70" r="1.05" fill="#000"/>
<circle cx="359.68" cy="283.50" r="1.05" fill="#000"/>
<circle cx="359.68" cy="288.70" r="1.05" fill="#000"/>
<circle cx="359.68" cy="313.50" r="1.05" fill="#000"/>
<circle cx="359.68" cy="315.70" r="1.05" fill="#000"/>
<line x1="359.68" x2="359.68" y1="270.70" y2="290.20" stroke="#1a1a1a" stroke-width="0.78"/>
<line x1="359.68" x2="359.68" y1="310.80" y2="315.70" stroke="#1a1a1a" stroke-width="0.78"/>
<rect x="356.47" y="290.20" width="6.41" height="20.60" fill="#fff" stroke="#303030" stroke-width="0.86"/>
<line x1="356.47" x2="362.88" y1="302.20" y2="302.20" stroke="#1a1a1a" stroke-width="1.48"/>
<circle cx="368.23" cy="265.30" r="1.05" fill="#000"/>
<circle cx="368.23" cy="309.70" r="1.05" fill="#000"/>
<circle cx="368.23" cy="312.00" r="1.05" fill="#000"/>
<line x1="368.23" x2="368.23" y1="265.30" y2="279.70" stroke="#1a1a1a" stroke-width="0.78"/>
<line x1="368.23" x2="368.23" y1="304.50" y2="312.00" stroke="#1a1a1a" stroke-width="0.78"/>
<rect x="365.02" y="279.70" width="6.41" height="24.80" fill="#fff" stroke="#303030" stroke-width="0.86"/>
<line x1="365.02" x2="371.43" y1="292.50" y2="292.50" stroke="#1a1a1a" stroke-width="1.48"/>
<circle cx="376.77" cy="232.30" r="1.05" fill="#000"/>
<circle cx="376.77" cy="274.30" r="1.05" fill="#000"/>
<circle cx="376.77" cy="305.00" r="1.05" fill="#000"/>
<circle cx="376.77" cy="317.70" r="1.05" fill="#000"/>
<line x1="376.77" x2="376.77" y1="274.30" y2="276.50" stroke="#1a1a1a" stroke-width="0.78"/>
<line x1="376.77" x2="376.77" y1="303.30" y2="317.70" stroke="#1a1a1a" stroke-width="0.78"/>
<rect x="373.57" y="276.50" width="6.41" height="26.80" fill="#fff" stroke="#303030" stroke-width="0.86"/>
<line x1="373.57" x2="379.98" y1="289.50" y2="289.50" stroke="#1a1a1a" stroke-width="1.48"/>
<circle cx="385.32" cy="245.00" r="1.05" fill="#000"/>
<circle cx="385.32" cy="248.20" r="1.05" fill="#000"/>
<circle cx="385.32" cy="269.50" r="1.05" fill="#000"/>
<circle cx="385.32" cy="305.70" r="1.05" fill="#000"/>
<line x1="385.32" x2="385.32" y1="245.00" y2="271.00" stroke="#1a1a1a" stroke-width="0.78"/>
<line x1="385.32" x2="385.32" y1="302.70" y2="306.70" stroke="#1a1a1a" stroke-width="0.78"/>
<rect x="382.12" y="271.00" width="6.41" height="31.70" fill="#fff" stroke="#303030" stroke-width="0.86"/>
<line x1="382.12" x2="388.53" y1="291.30" y2="291.30" stroke="#1a1a1a" stroke-width="1.48"/>
<circle cx="393.87" cy="260.50" r="1.05" fill="#000"/>
<circle cx="393.87" cy="266.50" r="1.05" fill="#000"/>
<circle cx="393.87" cy="270.00" r="1.05" fill="#000"/>
<circle cx="393.87" cy="301.50" r="1.05" fill="#000"/>
<circle cx="393.87" cy="304.80" r="1.05" fill="#000"/>
<circle cx="393.87" cy="308.20" r="1.05" fill="#000"/>
<circle cx="393.87" cy="310.20" r="1.05" fill="#000"/>
<line x1="393.87" x2="393.87" y1="260.50" y2="271.40" stroke="#1a1a1a" stroke-width="0.78"/>
<line x1="393.87" x2="393.87" y1="297.70" y2="310.20" stroke="#1a1a1a" stroke-width="0.78"/>
<rect x="390.67" y="271.40" width="6.41" height="26.30" fill="#fff" stroke="#303030" stroke-width="0.86"/>
<line x1="390.67" x2="397.08" y1="278.20" y2="278.20" stroke="#1a1a1a" stroke-width="1.48"/>
<rect x="346.0" y="220.0" width="53.00" height="8.50" fill="#d9d9d9" stroke="#5e5e5e" stroke-width="1.05"/>
<text x="372.50" y="225.83" font-family='"Liberation Sans", sans-serif' font-size="4.4" text-anchor="middle" fill="#111" stroke="#111" stroke-width="0.22">InvSimpson</text>
<rect x="346.0" y="228.5" width="53.00" height="94.50" fill="none" stroke="#5e5e5e" stroke-width="1.05"/>
<line x1="344.10" x2="346.0" y1="252.20" y2="252.20" stroke="#333333" stroke-width="0.6"/>
<text x="342.80" y="253.57" font-family='"Liberation Sans", sans-serif' font-size="3.8" text-anchor="end" fill="#2e2e2e" stroke="#2e2e2e" stroke-width="0.15">30</text>
<line x1="344.10" x2="346.0" y1="277.00" y2="277.00" stroke="#333333" stroke-width="0.6"/>
<text x="342.80" y="278.37" font-family='"Liberation Sans", sans-serif' font-size="3.8" text-anchor="end" fill="#2e2e2e" stroke="#2e2e2e" stroke-width="0.15">20</text>
<line x1="344.10" x2="346.0" y1="301.80" y2="301.80" stroke="#333333" stroke-width="0.6"/>
<text x="342.80" y="303.17" font-family='"Liberation Sans", sans-serif' font-size="3.8" text-anchor="end" fill="#2e2e2e" stroke="#2e2e2e" stroke-width="0.15">10</text>
<line x1="351.13" x2="351.13" y1="323.0" y2="324.90" stroke="#333333" stroke-width="0.6"/>
<text transform="translate(349.73,325.80) rotate(90)" font-family='"Liberation Sans", sans-serif' font-size="3.9" text-anchor="start" fill="#2e2e2e" stroke="#2e2e2e" stroke-width="0.15">CN</text>
<line x1="359.68" x2="359.68" y1="323.0" y2="324.90" stroke="#333333" stroke-width="0.6"/>
<text transform="translate(358.27,325.80) rotate(90)" font-family='"Liberation Sans", sans-serif' font-size="3.9" text-anchor="start" fill="#2e2e2e" stroke="#2e2e2e" stroke-width="0.15">CH</text>
<line x1="368.23" x2="368.23" y1="323.0" y2="324.90" stroke="#333333" stroke-width="0.6"/>
<text transform="translate(366.82,325.80) rotate(90)" font-family='"Liberation Sans", sans-serif' font-size="3.9" text-anchor="start" fill="#2e2e2e" stroke="#2e2e2e" stroke-width="0.15">SF -</text>
<line x1="376.77" x2="376.77" y1="323.0" y2="324.90" stroke="#333333" stroke-width="0.6"/>
<text transform="translate(375.37,325.80) rotate(90)" font-family='"Liberation Sans", sans-serif' font-size="3.9" text-anchor="start" fill="#2e2e2e" stroke="#2e2e2e" stroke-width="0.15">SF +</text>
<line x1="385.32" x2="385.32" y1="323.0" y2="324.90" stroke="#333333" stroke-width="0.6"/>
<text transform="translate(383.92,325.80) rotate(90)" font-family='"Liberation Sans", sans-serif' font-size="3.9" text-anchor="start" fill="#2e2e2e" stroke="#2e2e2e" stroke-width="0.15">Fi -</text>
<line x1="393.87" x2="393.87" y1="323.0" y2="324.90" stroke="#333333" stroke-width="0.6"/>
<text transform="translate(392.47,325.80) rotate(90)" font-family='"Liberation Sans", sans-serif' font-size="3.9" text-anchor="start" fill="#2e2e2e" stroke="#2e2e2e" stroke-width="0.15">Fi +</text>
</g>
<text transform="translate(211.0,273.0) rotate(-90)" font-family='"Liberation Sans", sans-serif' font-size="4.7" text-anchor="middle" fill="#000" stroke="#000" stroke-width="0.3">Alpha Diversity Measure</text>
<text x="311.0" y="339.0" font-family='"Liberation Sans", sans-serif' font-size="4.8" text-anchor="middle" fill="#000" stroke="#000" stroke-width="0.3">Treatment</text>
</g>
</svg>
</body>
</html>
